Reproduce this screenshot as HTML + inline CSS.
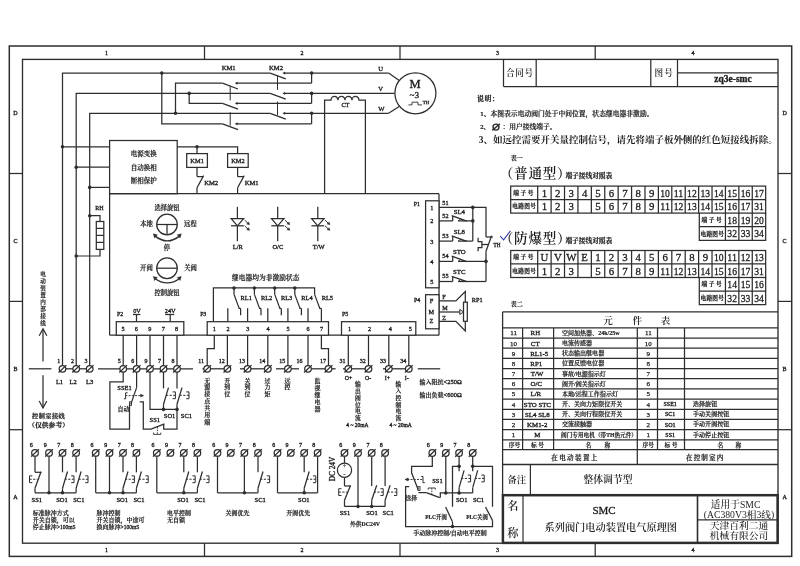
<!DOCTYPE html>
<html lang="zh">
<head>
<meta charset="utf-8">
<title>SMC系列阀门电动装置电气原理图</title>
<style>
html,body{margin:0;padding:0;background:#fff;}
body{width:800px;height:566px;overflow:hidden;}
svg{display:block;will-change:transform;}
svg text{font-family:'Liberation Serif','Noto Serif CJK SC',serif;fill:#1c1c1c;}
</style>
</head>
<body>
<svg width="800" height="566" viewBox="0 0 800 566" fill="none" stroke="#2e2e2e" stroke-width="1.25" stroke-linecap="butt" stroke-linejoin="miter">
<rect x="0" y="0" width="800" height="566" fill="#fff" stroke="none"/>
<g transform="translate(0 0.2)">
<rect x="9.3" y="45.8" width="782.4" height="510.4" stroke-width="1.5"/>
<rect x="22.5" y="59.2" width="755.5" height="483.8" stroke-width="1.35"/>
<line x1="204.5" y1="45.8" x2="204.5" y2="59.2"/>
<line x1="204.5" y1="543" x2="204.5" y2="556.2"/>
<line x1="400" y1="45.8" x2="400" y2="59.2"/>
<line x1="400" y1="543" x2="400" y2="556.2"/>
<line x1="595.2" y1="45.8" x2="595.2" y2="59.2"/>
<line x1="595.2" y1="543" x2="595.2" y2="556.2"/>
<line x1="9.3" y1="173.3" x2="22.5" y2="173.3"/>
<line x1="778" y1="173.3" x2="791.7" y2="173.3"/>
<line x1="9.3" y1="301.2" x2="22.5" y2="301.2"/>
<line x1="778" y1="301.2" x2="791.7" y2="301.2"/>
<line x1="9.3" y1="429.5" x2="22.5" y2="429.5"/>
<line x1="778" y1="429.5" x2="791.7" y2="429.5"/>
<line x1="503.5" y1="59.2" x2="503.5" y2="86.3"/>
<line x1="503.5" y1="86.3" x2="778" y2="86.3"/>
<line x1="536.2" y1="59.2" x2="536.2" y2="86.3"/>
<line x1="650.8" y1="59.2" x2="650.8" y2="86.3"/>
<line x1="677.5" y1="59.2" x2="677.5" y2="86.3"/>
<line x1="677.5" y1="72.6" x2="778" y2="72.6"/>
<circle cx="496" cy="126.9" r="3" stroke-width="1.4"/>
<line x1="492.3" y1="130.2" x2="499.9" y2="123.5" stroke-width="1.4"/>
<rect x="510.7" y="185.9" width="254.97" height="27"/>
<line x1="510.7" y1="199.4" x2="765.67" y2="199.4"/>
<line x1="537.7" y1="185.9" x2="537.7" y2="212.9"/>
<line x1="551.11" y1="185.9" x2="551.11" y2="212.9"/>
<line x1="564.52" y1="185.9" x2="564.52" y2="212.9"/>
<line x1="577.93" y1="185.9" x2="577.93" y2="212.9"/>
<line x1="591.34" y1="185.9" x2="591.34" y2="212.9"/>
<line x1="604.75" y1="185.9" x2="604.75" y2="212.9"/>
<line x1="618.16" y1="185.9" x2="618.16" y2="212.9"/>
<line x1="631.57" y1="185.9" x2="631.57" y2="212.9"/>
<line x1="644.98" y1="185.9" x2="644.98" y2="212.9"/>
<line x1="658.39" y1="185.9" x2="658.39" y2="212.9"/>
<line x1="671.8" y1="185.9" x2="671.8" y2="212.9"/>
<line x1="685.21" y1="185.9" x2="685.21" y2="212.9"/>
<line x1="698.62" y1="185.9" x2="698.62" y2="212.9"/>
<line x1="712.03" y1="185.9" x2="712.03" y2="212.9"/>
<line x1="725.44" y1="185.9" x2="725.44" y2="212.9"/>
<line x1="738.85" y1="185.9" x2="738.85" y2="212.9"/>
<line x1="752.26" y1="185.9" x2="752.26" y2="212.9"/>
<polyline points="699.3,212.9 699.3,240.1 765.67,240.1 765.67,212.9"/>
<line x1="699.3" y1="226.5" x2="765.67" y2="226.5"/>
<line x1="725.44" y1="212.9" x2="725.44" y2="240.1"/>
<line x1="738.85" y1="212.9" x2="738.85" y2="240.1"/>
<line x1="752.26" y1="212.9" x2="752.26" y2="240.1"/>
<rect x="510.7" y="250.3" width="254.97" height="27"/>
<line x1="510.7" y1="263.8" x2="765.67" y2="263.8"/>
<line x1="537.7" y1="250.3" x2="537.7" y2="277.3"/>
<line x1="551.11" y1="250.3" x2="551.11" y2="277.3"/>
<line x1="564.52" y1="250.3" x2="564.52" y2="277.3"/>
<line x1="577.93" y1="250.3" x2="577.93" y2="277.3"/>
<line x1="591.34" y1="250.3" x2="591.34" y2="277.3"/>
<line x1="604.75" y1="250.3" x2="604.75" y2="277.3"/>
<line x1="618.16" y1="250.3" x2="618.16" y2="277.3"/>
<line x1="631.57" y1="250.3" x2="631.57" y2="277.3"/>
<line x1="644.98" y1="250.3" x2="644.98" y2="277.3"/>
<line x1="658.39" y1="250.3" x2="658.39" y2="277.3"/>
<line x1="671.8" y1="250.3" x2="671.8" y2="277.3"/>
<line x1="685.21" y1="250.3" x2="685.21" y2="277.3"/>
<line x1="698.62" y1="250.3" x2="698.62" y2="277.3"/>
<line x1="712.03" y1="250.3" x2="712.03" y2="277.3"/>
<line x1="725.44" y1="250.3" x2="725.44" y2="277.3"/>
<line x1="738.85" y1="250.3" x2="738.85" y2="277.3"/>
<line x1="752.26" y1="250.3" x2="752.26" y2="277.3"/>
<polyline points="699.3,277.3 699.3,304.5 765.67,304.5 765.67,277.3"/>
<line x1="699.3" y1="290.9" x2="765.67" y2="290.9"/>
<line x1="725.44" y1="277.3" x2="725.44" y2="304.5"/>
<line x1="738.85" y1="277.3" x2="738.85" y2="304.5"/>
<line x1="752.26" y1="277.3" x2="752.26" y2="304.5"/>
<polyline points="500.2,236 503.6,239.6 510.4,230.6" stroke-width="1.1" stroke="#3a3aa8"/>
<line x1="502.6" y1="311.7" x2="778" y2="311.7" stroke-width="1.3"/>
<line x1="502.6" y1="311.7" x2="502.6" y2="495" stroke-width="1.3"/>
<line x1="502.6" y1="327.7" x2="778" y2="327.7"/>
<line x1="502.6" y1="337.87" x2="778" y2="337.87"/>
<line x1="502.6" y1="348.04" x2="778" y2="348.04"/>
<line x1="502.6" y1="358.21" x2="778" y2="358.21"/>
<line x1="502.6" y1="368.38" x2="778" y2="368.38"/>
<line x1="502.6" y1="378.55" x2="778" y2="378.55"/>
<line x1="502.6" y1="388.72" x2="778" y2="388.72"/>
<line x1="502.6" y1="398.89" x2="778" y2="398.89"/>
<line x1="502.6" y1="409.06" x2="778" y2="409.06"/>
<line x1="502.6" y1="419.23" x2="778" y2="419.23"/>
<line x1="502.6" y1="429.4" x2="778" y2="429.4"/>
<line x1="502.6" y1="439.57" x2="778" y2="439.57"/>
<line x1="502.6" y1="449.4" x2="778" y2="449.4"/>
<line x1="502.6" y1="464.3" x2="778" y2="464.3" stroke-width="1.3"/>
<line x1="522.6" y1="327.7" x2="522.6" y2="449.4"/>
<line x1="553.6" y1="327.7" x2="553.6" y2="449.4"/>
<line x1="657.5" y1="327.7" x2="657.5" y2="449.4"/>
<line x1="684.5" y1="327.7" x2="684.5" y2="449.4"/>
<line x1="637.3" y1="327.7" x2="637.3" y2="464.3"/>
<line x1="530.4" y1="464.3" x2="530.4" y2="495" stroke-width="1.2"/>
<rect x="502.9" y="495" width="274.7" height="47.7" stroke-width="2.5"/>
<line x1="523" y1="495" x2="523" y2="543" stroke-width="1.2"/>
<line x1="697.5" y1="495" x2="697.5" y2="543" stroke-width="1.6"/>
<line x1="697.5" y1="519.6" x2="778" y2="519.6" stroke-width="1.2"/>
<polyline points="62.5,365.3 62.5,72.9 270.2,72.9"/>
<polyline points="76.2,365.3 76.2,93.2 270.2,93.2"/>
<polyline points="89.7,365.3 89.7,113.1 270.2,113.1"/>
<circle cx="161.8" cy="72.9" r="1.8" fill="#2e2e2e" stroke="none"/>
<polyline points="161.8,72.9 161.8,123.6 222.5,123.6"/>
<circle cx="175.5" cy="113.1" r="1.8" fill="#2e2e2e" stroke="none"/>
<polyline points="175.5,113.1 175.5,83 222.5,83"/>
<circle cx="189.2" cy="93.2" r="1.8" fill="#2e2e2e" stroke="none"/>
<polyline points="189.2,93.2 189.2,103.2 222.5,103.2"/>
<line x1="222.5" y1="83" x2="238" y2="88.8"/>
<line x1="236.2" y1="83" x2="311.6" y2="83"/>
<polygon points="235.2,83 237.4,81.9 237.4,84.1" stroke-width="0.4" fill="#2e2e2e"/>
<line x1="222.5" y1="103.2" x2="238" y2="109"/>
<line x1="236.2" y1="103.2" x2="311.6" y2="103.2"/>
<polygon points="235.2,103.2 237.4,102.1 237.4,104.3" stroke-width="0.4" fill="#2e2e2e"/>
<line x1="222.5" y1="123.6" x2="238" y2="129.4"/>
<line x1="236.2" y1="123.6" x2="311.6" y2="123.6"/>
<polygon points="235.2,123.6 237.4,122.5 237.4,124.7" stroke-width="0.4" fill="#2e2e2e"/>
<line x1="230.2" y1="86" x2="230.2" y2="100.2" stroke-width="1"/>
<line x1="230.2" y1="112" x2="230.2" y2="125.4" stroke-width="1"/>
<line x1="270.2" y1="72.9" x2="285.8" y2="78.7"/>
<polygon points="282.8,72.9 285,71.8 285,74" stroke-width="0.4" fill="#2e2e2e"/>
<line x1="270.2" y1="93.2" x2="285.8" y2="99"/>
<polygon points="282.8,93.2 285,92.1 285,94.3" stroke-width="0.4" fill="#2e2e2e"/>
<line x1="270.2" y1="113.1" x2="285.8" y2="118.9"/>
<polygon points="282.8,113.1 285,112 285,114.2" stroke-width="0.4" fill="#2e2e2e"/>
<line x1="283.8" y1="72.9" x2="388.6" y2="72.9"/>
<line x1="283.8" y1="93.2" x2="394.9" y2="93.2"/>
<line x1="283.8" y1="113.1" x2="388.6" y2="113.1"/>
<line x1="277.5" y1="75.6" x2="277.5" y2="89.7" stroke-width="1"/>
<line x1="277.5" y1="101.4" x2="277.5" y2="115" stroke-width="1"/>
<circle cx="311.6" cy="72.9" r="1.8" fill="#2e2e2e" stroke="none"/>
<line x1="311.6" y1="72.9" x2="311.6" y2="83"/>
<circle cx="311.6" cy="93.2" r="1.8" fill="#2e2e2e" stroke="none"/>
<line x1="311.6" y1="93.2" x2="311.6" y2="103.2"/>
<circle cx="311.6" cy="113.1" r="1.8" fill="#2e2e2e" stroke="none"/>
<line x1="311.6" y1="113.1" x2="311.6" y2="123.6"/>
<line x1="388.6" y1="72.9" x2="399.2" y2="80.2"/>
<line x1="388.6" y1="113.1" x2="399.2" y2="106.2"/>
<circle cx="415.4" cy="93.1" r="20.5" fill="#fff"/>
<polyline points="408.4,104.7 412,104.7 412,102 418,102 418,104.7 422,104.7" stroke-width="0.9"/>
<path d="M324.6,193.6 V100 H331 a3.5,3.8 0 0 1 7,0 a3.5,3.8 0 0 1 7,0 a3.5,3.8 0 0 1 7,0 a3.5,3.8 0 0 1 7,0 H365.4 V193.6"/>
<rect x="109.6" y="140.3" width="67.6" height="53.2"/>
<circle cx="62.5" cy="146.6" r="1.8" fill="#2e2e2e" stroke="none"/>
<line x1="62.5" y1="146.6" x2="109.6" y2="146.6"/>
<circle cx="76.2" cy="167" r="1.8" fill="#2e2e2e" stroke="none"/>
<line x1="76.2" y1="167" x2="109.6" y2="167"/>
<circle cx="89.7" cy="187.2" r="1.8" fill="#2e2e2e" stroke="none"/>
<line x1="89.7" y1="187.2" x2="109.6" y2="187.2"/>
<polyline points="177.2,146.6 237.6,146.6 237.6,153.4"/>
<circle cx="197" cy="146.6" r="1.8" fill="#2e2e2e" stroke="none"/>
<line x1="197" y1="146.6" x2="197" y2="153.4"/>
<rect x="186.7" y="153.4" width="20.7" height="13.8" fill="#fff"/>
<rect x="227.6" y="153.4" width="20.6" height="13.8" fill="#fff"/>
<line x1="197" y1="167.2" x2="197" y2="176.4"/>
<line x1="197" y1="176.4" x2="203.2" y2="176.4"/>
<line x1="197" y1="187.6" x2="203.6" y2="175.4"/>
<line x1="197" y1="187.6" x2="197" y2="193.5"/>
<line x1="237.6" y1="167.2" x2="237.6" y2="176.4"/>
<line x1="237.6" y1="176.4" x2="243.8" y2="176.4"/>
<line x1="237.6" y1="187.6" x2="244.2" y2="175.4"/>
<line x1="237.6" y1="187.6" x2="237.6" y2="193.5"/>
<circle cx="89.7" cy="215.5" r="1.8" fill="#2e2e2e" stroke="none"/>
<polyline points="89.7,215.5 100,215.5 100,221.3"/>
<rect x="96.3" y="221.3" width="7.5" height="27.9" fill="#fff"/>
<line x1="96.3" y1="228.2" x2="103.8" y2="228.2"/>
<line x1="96.3" y1="235.2" x2="103.8" y2="235.2"/>
<line x1="96.3" y1="242.2" x2="103.8" y2="242.2"/>
<polyline points="100,249.2 100,255.8 76.2,255.8"/>
<circle cx="76.2" cy="255.8" r="1.8" fill="#2e2e2e" stroke="none"/>
<line x1="28.8" y1="368.6" x2="51.4" y2="368.6"/>
<line x1="62.5" y1="368.6" x2="89.7" y2="368.6"/>
<circle cx="62.5" cy="368.6" r="3.3" stroke-width="1.25" fill="#fff"/>
<line x1="58.6" y1="372.3" x2="66.4" y2="364.9" stroke-width="1.25"/>
<circle cx="76.2" cy="368.6" r="3.3" stroke-width="1.25" fill="#fff"/>
<line x1="72.3" y1="372.3" x2="80.1" y2="364.9" stroke-width="1.25"/>
<circle cx="89.7" cy="368.6" r="3.3" stroke-width="1.25" fill="#fff"/>
<line x1="85.8" y1="372.3" x2="93.6" y2="364.9" stroke-width="1.25"/>
<line x1="98" y1="368.6" x2="193" y2="368.6"/>
<line x1="43" y1="361.2" x2="43" y2="329"/>
<polyline points="39.2,335.6 43,328.6 46.8,335.6"/>
<line x1="43" y1="375" x2="43" y2="407.4"/>
<polyline points="39.2,400.8 43,407.8 46.8,400.8"/>
<line x1="109.6" y1="193.5" x2="439" y2="193.5"/>
<line x1="109.6" y1="193.5" x2="109.6" y2="335"/>
<line x1="439" y1="193.5" x2="439" y2="335"/>
<line x1="109.6" y1="335" x2="439" y2="335"/>
<circle cx="167" cy="224.3" r="10.3"/>
<line x1="156.7" y1="224.3" x2="177.3" y2="224.3"/>
<line x1="167" y1="224.3" x2="167" y2="234.6"/>
<circle cx="167" cy="268" r="10.3"/>
<line x1="156.7" y1="268" x2="177.3" y2="268"/>
<path d="M154.6,235.4 Q167.3,246 180.0,235.4" stroke-width="1.4"/>
<polygon points="153.3,233.6 157.4,234.6 154.5,237.8" stroke-width="0.4" fill="#2e2e2e"/>
<polygon points="181.3,233.6 177.2,234.6 180.1,237.8" stroke-width="0.4" fill="#2e2e2e"/>
<path d="M154.6,278 Q167.3,287.4 180.0,278" stroke-width="1.4"/>
<polygon points="153.3,276.2 157.4,277.2 154.5,280.4" stroke-width="0.4" fill="#2e2e2e"/>
<polygon points="181.3,276.2 177.2,277.2 180.1,280.4" stroke-width="0.4" fill="#2e2e2e"/>
<line x1="237.4" y1="206.6" x2="237.4" y2="218.5"/>
<line x1="237.4" y1="225.6" x2="237.4" y2="241"/>
<polygon points="231.2,218.5 243.6,218.5 237.4,225.6" fill="#fff"/>
<line x1="231" y1="225.6" x2="243.8" y2="225.6"/>
<line x1="244.6" y1="219.9" x2="248.4" y2="223.5" stroke-width="1"/>
<polygon points="249.6,224.5 246.6,223.8 248.8,221.8" stroke-width="0.4" fill="#2e2e2e"/>
<line x1="244.6" y1="225.6" x2="248.4" y2="229.2" stroke-width="1"/>
<polygon points="249.6,230.2 246.6,229.5 248.8,227.5" stroke-width="0.4" fill="#2e2e2e"/>
<line x1="277.7" y1="206.6" x2="277.7" y2="218.5"/>
<line x1="277.7" y1="225.6" x2="277.7" y2="241"/>
<polygon points="271.5,218.5 283.9,218.5 277.7,225.6" fill="#fff"/>
<line x1="271.3" y1="225.6" x2="284.1" y2="225.6"/>
<line x1="284.9" y1="219.9" x2="288.7" y2="223.5" stroke-width="1"/>
<polygon points="289.9,224.5 286.9,223.8 289.1,221.8" stroke-width="0.4" fill="#2e2e2e"/>
<line x1="284.9" y1="225.6" x2="288.7" y2="229.2" stroke-width="1"/>
<polygon points="289.9,230.2 286.9,229.5 289.1,227.5" stroke-width="0.4" fill="#2e2e2e"/>
<line x1="317.8" y1="206.6" x2="317.8" y2="218.5"/>
<line x1="317.8" y1="225.6" x2="317.8" y2="241"/>
<polygon points="311.6,218.5 324,218.5 317.8,225.6" fill="#fff"/>
<line x1="311.4" y1="225.6" x2="324.2" y2="225.6"/>
<line x1="325" y1="219.9" x2="328.8" y2="223.5" stroke-width="1"/>
<polygon points="330,224.5 327,223.8 329.2,221.8" stroke-width="0.4" fill="#2e2e2e"/>
<line x1="325" y1="225.6" x2="328.8" y2="229.2" stroke-width="1"/>
<polygon points="330,230.2 327,229.5 329.2,227.5" stroke-width="0.4" fill="#2e2e2e"/>
<polyline points="213.4,321.5 213.4,287.8 314.6,287.8 314.6,294.2"/>
<circle cx="234" cy="287.8" r="1.8" fill="#2e2e2e" stroke="none"/>
<line x1="234" y1="287.8" x2="234" y2="294.2"/>
<line x1="234" y1="294.2" x2="239.2" y2="308.2"/>
<line x1="238.6" y1="308.2" x2="240.6" y2="308.2"/>
<line x1="240.6" y1="308.2" x2="240.6" y2="315"/>
<circle cx="254.4" cy="287.8" r="1.8" fill="#2e2e2e" stroke="none"/>
<line x1="254.4" y1="287.8" x2="254.4" y2="294.2"/>
<line x1="254.4" y1="294.2" x2="259.6" y2="308.2"/>
<line x1="259" y1="308.2" x2="261" y2="308.2"/>
<line x1="261" y1="308.2" x2="261" y2="315"/>
<circle cx="274.7" cy="287.8" r="1.8" fill="#2e2e2e" stroke="none"/>
<line x1="274.7" y1="287.8" x2="274.7" y2="294.2"/>
<line x1="274.7" y1="294.2" x2="279.9" y2="308.2"/>
<line x1="279.3" y1="308.2" x2="281.3" y2="308.2"/>
<line x1="281.3" y1="308.2" x2="281.3" y2="315"/>
<circle cx="294.8" cy="287.8" r="1.8" fill="#2e2e2e" stroke="none"/>
<line x1="294.8" y1="287.8" x2="294.8" y2="294.2"/>
<line x1="294.8" y1="294.2" x2="300" y2="308.2"/>
<line x1="299.4" y1="308.2" x2="301.4" y2="308.2"/>
<line x1="301.4" y1="308.2" x2="301.4" y2="315"/>
<line x1="314.6" y1="294.2" x2="319.8" y2="308.2"/>
<line x1="319.2" y1="308.2" x2="321.4" y2="308.2"/>
<line x1="321.4" y1="308.2" x2="321.4" y2="321.5"/>
<line x1="227.8" y1="308" x2="227.8" y2="321.5"/>
<line x1="247.6" y1="308" x2="247.6" y2="321.5"/>
<line x1="267.8" y1="308" x2="267.8" y2="321.5"/>
<line x1="287.9" y1="308" x2="287.9" y2="321.5"/>
<line x1="308" y1="308" x2="308" y2="321.5"/>
<rect x="207.2" y="321.5" width="121.3" height="13.5" fill="#fff"/>
<rect x="116.3" y="321.5" width="67.5" height="13.5" fill="#fff"/>
<line x1="133" y1="314.3" x2="140.4" y2="314.3"/>
<line x1="136.5" y1="314.3" x2="136.5" y2="321.5"/>
<line x1="165.2" y1="314.3" x2="174.2" y2="314.3"/>
<line x1="170.2" y1="314.3" x2="170.2" y2="321.5"/>
<rect x="341.5" y="321.5" width="74.3" height="13.5" fill="#fff"/>
<rect x="425.6" y="200.6" width="13.4" height="87" fill="#fff"/>
<rect x="425.6" y="294.5" width="13.4" height="34.1" fill="#fff"/>
<polyline points="439,207.2 486,207.2 486,236.8"/>
<circle cx="472.8" cy="207.2" r="1.8" fill="#2e2e2e" stroke="none"/>
<line x1="472.8" y1="207.2" x2="472.8" y2="240.9"/>
<circle cx="472.8" cy="220.7" r="1.8" fill="#2e2e2e" stroke="none"/>
<line x1="439" y1="220.7" x2="452.7" y2="220.7"/>
<line x1="452.7" y1="220.7" x2="452.7" y2="215.9"/>
<line x1="451.7" y1="215.5" x2="466.9" y2="220.9"/>
<polyline points="458.1,220.7 460.9,218.6 463.3,220.7" stroke-width="0.9"/>
<line x1="458.1" y1="220.7" x2="472.8" y2="220.7"/>
<line x1="439" y1="240.9" x2="452.7" y2="240.9"/>
<line x1="452.7" y1="240.9" x2="452.7" y2="236.1"/>
<line x1="451.7" y1="235.7" x2="466.9" y2="241.1"/>
<polyline points="458.1,240.9 460.9,238.8 463.3,240.9" stroke-width="0.9"/>
<line x1="458.1" y1="240.9" x2="472.8" y2="240.9"/>
<line x1="439" y1="261.2" x2="452.7" y2="261.2"/>
<line x1="452.7" y1="261.2" x2="452.7" y2="256.4"/>
<line x1="451.7" y1="256" x2="466.9" y2="261.4"/>
<polyline points="458.1,261.2 460.9,259.1 463.3,261.2" stroke-width="0.9"/>
<line x1="458.1" y1="261.2" x2="486" y2="261.2"/>
<line x1="439" y1="281.3" x2="452.7" y2="281.3"/>
<line x1="452.7" y1="281.3" x2="452.7" y2="276.5"/>
<line x1="451.7" y1="276.1" x2="466.9" y2="281.5"/>
<polyline points="458.1,281.3 460.9,279.2 463.3,281.3" stroke-width="0.9"/>
<line x1="458.1" y1="281.3" x2="486" y2="281.3"/>
<circle cx="486" cy="261.2" r="1.8" fill="#2e2e2e" stroke="none"/>
<line x1="486" y1="281.3" x2="486" y2="251"/>
<line x1="486" y1="236.8" x2="492.9" y2="236.8"/>
<line x1="486" y1="251" x2="491.6" y2="235.6"/>
<polyline points="478.1,237.6 478.1,241.3 481.9,241.3 481.9,247.3 478.1,247.3 478.1,251.1"/>
<line x1="481.9" y1="244.3" x2="488.6" y2="244.3"/>
<polyline points="439,300.8 455.9,300.8 465.3,291.4 465.3,302"/>
<polyline points="439,321.1 455.9,321.1 465.3,330.8 465.3,321.1"/>
<line x1="439" y1="311.8" x2="460.2" y2="311.8"/>
<polygon points="459.8,309.3 463.6,311.8 459.8,314.3" stroke-width="1" fill="#fff"/>
<rect x="463.5" y="302" width="3.8" height="19.1" fill="#fff"/>
<line x1="123.2" y1="335" x2="123.2" y2="368.6"/>
<circle cx="123.2" cy="368.6" r="3.3" stroke-width="1.25" fill="#fff"/>
<line x1="119.3" y1="372.3" x2="127.1" y2="364.9" stroke-width="1.25"/>
<line x1="136.6" y1="335" x2="136.6" y2="368.6"/>
<circle cx="136.6" cy="368.6" r="3.3" stroke-width="1.25" fill="#fff"/>
<line x1="132.7" y1="372.3" x2="140.5" y2="364.9" stroke-width="1.25"/>
<line x1="150" y1="335" x2="150" y2="368.6"/>
<circle cx="150" cy="368.6" r="3.3" stroke-width="1.25" fill="#fff"/>
<line x1="146.1" y1="372.3" x2="153.9" y2="364.9" stroke-width="1.25"/>
<line x1="163.5" y1="335" x2="163.5" y2="368.6"/>
<circle cx="163.5" cy="368.6" r="3.3" stroke-width="1.25" fill="#fff"/>
<line x1="159.6" y1="372.3" x2="167.4" y2="364.9" stroke-width="1.25"/>
<line x1="177" y1="335" x2="177" y2="368.6"/>
<circle cx="177" cy="368.6" r="3.3" stroke-width="1.25" fill="#fff"/>
<line x1="173.1" y1="372.3" x2="180.9" y2="364.9" stroke-width="1.25"/>
<polyline points="123.2,371.9 123.2,381.8 109.9,381.8 109.9,429 129.5,429 129.5,404.6"/>
<rect x="129.5" y="401.6" width="1.9" height="3.6" stroke-width="0.9"/>
<line x1="136.6" y1="371.9" x2="136.6" y2="387.4"/>
<line x1="136.6" y1="387.4" x2="130.8" y2="404.2"/>
<polyline points="127.6,392.6 125.6,392.6 125.6,398.6 123.8,398.6" stroke-width="1"/>
<line x1="125.4" y1="395.4" x2="141" y2="395.4" stroke-width="0.9" stroke-dasharray="2,1.2"/>
<polygon points="140.6,394 143.6,395.4 140.6,396.8" stroke-width="0.6" fill="#2e2e2e"/>
<polyline points="139.7,401.8 143.3,401.8 143.3,429 151,429"/>
<line x1="151" y1="429" x2="164.6" y2="423.7"/>
<polyline points="163.7,424.6 163.7,429 177,429 177,409.2"/>
<line x1="157.4" y1="426.8" x2="157.4" y2="433.6" stroke-width="0.9" stroke-dasharray="1.6,1"/>
<polyline points="153.6,432.4 153.6,434.2 160.8,434.2 160.8,432.4" stroke-width="0.9"/>
<polyline points="150,371.9 150,409.2 177,409.2"/>
<circle cx="163.5" cy="409.2" r="1.8" fill="#2e2e2e" stroke="none"/>
<circle cx="177" cy="409.2" r="1.8" fill="#2e2e2e" stroke="none"/>
<line x1="163.5" y1="371.9" x2="163.5" y2="388.2"/>
<line x1="163.5" y1="404" x2="168.5" y2="387.4"/>
<line x1="163.5" y1="404" x2="163.5" y2="409.2"/>
<polyline points="172.6,391.7 175.4,391.7 175.4,398.5 172.6,398.5" stroke-width="1"/>
<line x1="175.4" y1="395.1" x2="166.1" y2="395.1" stroke-width="1" stroke-dasharray="2.2,1.4"/>
<line x1="177" y1="371.9" x2="177" y2="388.2"/>
<line x1="177" y1="404" x2="182" y2="387.4"/>
<line x1="177" y1="404" x2="177" y2="409.2"/>
<polyline points="186.2,391.7 189,391.7 189,398.5 186.2,398.5" stroke-width="1"/>
<line x1="189" y1="395.1" x2="179.6" y2="395.1" stroke-width="1" stroke-dasharray="2.2,1.4"/>
<polyline points="214.3,335 214.3,348.4 207.2,348.4 207.2,368.6"/>
<line x1="227.4" y1="335" x2="227.4" y2="368.6"/>
<line x1="247.6" y1="335" x2="247.6" y2="368.6"/>
<line x1="267.8" y1="335" x2="267.8" y2="368.6"/>
<line x1="287.9" y1="335" x2="287.9" y2="368.6"/>
<line x1="308" y1="335" x2="308" y2="368.6"/>
<polyline points="321.4,335 321.4,348.4 328.5,348.4 328.5,368.6"/>
<line x1="202.5" y1="368.6" x2="231" y2="368.6"/>
<line x1="240" y1="368.6" x2="271.2" y2="368.6"/>
<line x1="276" y1="368.6" x2="299" y2="368.6"/>
<line x1="308" y1="368.6" x2="335.6" y2="368.6"/>
<circle cx="207.2" cy="368.6" r="3.3" stroke-width="1.25" fill="#fff"/>
<line x1="203.3" y1="372.3" x2="211.1" y2="364.9" stroke-width="1.25"/>
<circle cx="227.4" cy="368.6" r="3.3" stroke-width="1.25" fill="#fff"/>
<line x1="223.5" y1="372.3" x2="231.3" y2="364.9" stroke-width="1.25"/>
<circle cx="247.6" cy="368.6" r="3.3" stroke-width="1.25" fill="#fff"/>
<line x1="243.7" y1="372.3" x2="251.5" y2="364.9" stroke-width="1.25"/>
<circle cx="267.8" cy="368.6" r="3.3" stroke-width="1.25" fill="#fff"/>
<line x1="263.9" y1="372.3" x2="271.7" y2="364.9" stroke-width="1.25"/>
<circle cx="287.9" cy="368.6" r="3.3" stroke-width="1.25" fill="#fff"/>
<line x1="284" y1="372.3" x2="291.8" y2="364.9" stroke-width="1.25"/>
<circle cx="308" cy="368.6" r="3.3" stroke-width="1.25" fill="#fff"/>
<line x1="304.1" y1="372.3" x2="311.9" y2="364.9" stroke-width="1.25"/>
<circle cx="328.5" cy="368.6" r="3.3" stroke-width="1.25" fill="#fff"/>
<line x1="324.6" y1="372.3" x2="332.4" y2="364.9" stroke-width="1.25"/>
<line x1="348.3" y1="335" x2="348.3" y2="368.6"/>
<line x1="368.5" y1="335" x2="368.5" y2="368.6"/>
<line x1="388.8" y1="335" x2="388.8" y2="368.6"/>
<line x1="408.8" y1="335" x2="408.8" y2="368.6"/>
<line x1="343" y1="368.6" x2="372" y2="368.6"/>
<line x1="383" y1="368.6" x2="408.8" y2="368.6"/>
<line x1="417.8" y1="368.6" x2="440.2" y2="368.6"/>
<circle cx="348.3" cy="368.6" r="3.3" stroke-width="1.25" fill="#fff"/>
<line x1="344.4" y1="372.3" x2="352.2" y2="364.9" stroke-width="1.25"/>
<circle cx="368.5" cy="368.6" r="3.3" stroke-width="1.25" fill="#fff"/>
<line x1="364.6" y1="372.3" x2="372.4" y2="364.9" stroke-width="1.25"/>
<circle cx="388.8" cy="368.6" r="3.3" stroke-width="1.25" fill="#fff"/>
<line x1="384.9" y1="372.3" x2="392.7" y2="364.9" stroke-width="1.25"/>
<circle cx="408.8" cy="368.6" r="3.3" stroke-width="1.25" fill="#fff"/>
<line x1="404.9" y1="372.3" x2="412.7" y2="364.9" stroke-width="1.25"/>
<line x1="35" y1="456" x2="35" y2="472.1"/>
<line x1="35" y1="472.1" x2="41.4" y2="472.1"/>
<line x1="35" y1="488" x2="41" y2="471.5"/>
<line x1="35" y1="488" x2="35" y2="492.6"/>
<polyline points="32.3,475.65 29.5,475.65 29.5,482.45 32.3,482.45" stroke-width="1"/>
<line x1="29.5" y1="479.05" x2="37.6" y2="479.05" stroke-width="1" stroke-dasharray="2.2,1.4"/>
<line x1="49" y1="456" x2="49" y2="492.6"/>
<line x1="62.5" y1="456" x2="62.5" y2="472.1"/>
<line x1="62.5" y1="488" x2="67.5" y2="471.3"/>
<line x1="62.5" y1="488" x2="62.5" y2="492.6"/>
<polyline points="71.2,475.65 74,475.65 74,482.45 71.2,482.45" stroke-width="1"/>
<line x1="74" y1="479.05" x2="65.1" y2="479.05" stroke-width="1" stroke-dasharray="2.2,1.4"/>
<line x1="76.1" y1="456" x2="76.1" y2="472.1"/>
<line x1="76.1" y1="488" x2="81.1" y2="471.3"/>
<line x1="76.1" y1="488" x2="76.1" y2="492.6"/>
<polyline points="85.2,475.65 88,475.65 88,482.45 85.2,482.45" stroke-width="1"/>
<line x1="88" y1="479.05" x2="78.7" y2="479.05" stroke-width="1" stroke-dasharray="2.2,1.4"/>
<line x1="35" y1="492.6" x2="76.1" y2="492.6"/>
<circle cx="49" cy="492.6" r="1.8" fill="#2e2e2e" stroke="none"/>
<circle cx="62.5" cy="492.6" r="1.8" fill="#2e2e2e" stroke="none"/>
<circle cx="35" cy="452.7" r="3.3" stroke-width="1.25" fill="#fff"/>
<line x1="31.1" y1="456.4" x2="38.9" y2="449" stroke-width="1.25"/>
<circle cx="49" cy="452.7" r="3.3" stroke-width="1.25" fill="#fff"/>
<line x1="45.1" y1="456.4" x2="52.9" y2="449" stroke-width="1.25"/>
<circle cx="62.5" cy="452.7" r="3.3" stroke-width="1.25" fill="#fff"/>
<line x1="58.6" y1="456.4" x2="66.4" y2="449" stroke-width="1.25"/>
<circle cx="76.1" cy="452.7" r="3.3" stroke-width="1.25" fill="#fff"/>
<line x1="72.2" y1="456.4" x2="80" y2="449" stroke-width="1.25"/>
<line x1="95.7" y1="456" x2="95.7" y2="492.6"/>
<line x1="109.5" y1="456" x2="109.5" y2="492.6"/>
<line x1="123" y1="456" x2="123" y2="472.1"/>
<line x1="123" y1="488" x2="128" y2="471.3"/>
<line x1="123" y1="488" x2="123" y2="492.6"/>
<polyline points="131.6,475.65 134.4,475.65 134.4,482.45 131.6,482.45" stroke-width="1"/>
<line x1="134.4" y1="479.05" x2="125.6" y2="479.05" stroke-width="1" stroke-dasharray="2.2,1.4"/>
<line x1="136.4" y1="456" x2="136.4" y2="472.1"/>
<line x1="136.4" y1="488" x2="141.4" y2="471.3"/>
<line x1="136.4" y1="488" x2="136.4" y2="492.6"/>
<polyline points="145.4,475.65 148.2,475.65 148.2,482.45 145.4,482.45" stroke-width="1"/>
<line x1="148.2" y1="479.05" x2="139" y2="479.05" stroke-width="1" stroke-dasharray="2.2,1.4"/>
<line x1="95.7" y1="492.6" x2="136.4" y2="492.6"/>
<circle cx="109.5" cy="492.6" r="1.8" fill="#2e2e2e" stroke="none"/>
<circle cx="123" cy="492.6" r="1.8" fill="#2e2e2e" stroke="none"/>
<circle cx="95.7" cy="452.7" r="3.3" stroke-width="1.25" fill="#fff"/>
<line x1="91.8" y1="456.4" x2="99.6" y2="449" stroke-width="1.25"/>
<circle cx="109.5" cy="452.7" r="3.3" stroke-width="1.25" fill="#fff"/>
<line x1="105.6" y1="456.4" x2="113.4" y2="449" stroke-width="1.25"/>
<circle cx="123" cy="452.7" r="3.3" stroke-width="1.25" fill="#fff"/>
<line x1="119.1" y1="456.4" x2="126.9" y2="449" stroke-width="1.25"/>
<circle cx="136.4" cy="452.7" r="3.3" stroke-width="1.25" fill="#fff"/>
<line x1="132.5" y1="456.4" x2="140.3" y2="449" stroke-width="1.25"/>
<line x1="156.8" y1="456" x2="156.8" y2="492.6"/>
<line x1="183.8" y1="456" x2="183.8" y2="472.1"/>
<line x1="183.8" y1="488" x2="188.8" y2="471.3"/>
<line x1="183.8" y1="488" x2="183.8" y2="492.6"/>
<polyline points="192.4,475.65 195.2,475.65 195.2,482.45 192.4,482.45" stroke-width="1"/>
<line x1="195.2" y1="479.05" x2="186.4" y2="479.05" stroke-width="1" stroke-dasharray="2.2,1.4"/>
<line x1="197.4" y1="456" x2="197.4" y2="472.1"/>
<line x1="197.4" y1="488" x2="202.4" y2="471.3"/>
<line x1="197.4" y1="488" x2="197.4" y2="492.6"/>
<polyline points="206.2,475.65 209,475.65 209,482.45 206.2,482.45" stroke-width="1"/>
<line x1="209" y1="479.05" x2="200" y2="479.05" stroke-width="1" stroke-dasharray="2.2,1.4"/>
<line x1="156.8" y1="492.6" x2="197.4" y2="492.6"/>
<circle cx="183.8" cy="492.6" r="1.8" fill="#2e2e2e" stroke="none"/>
<circle cx="156.8" cy="452.7" r="3.3" stroke-width="1.25" fill="#fff"/>
<line x1="152.9" y1="456.4" x2="160.7" y2="449" stroke-width="1.25"/>
<circle cx="170.4" cy="452.7" r="3.3" stroke-width="1.25" fill="#fff"/>
<line x1="166.5" y1="456.4" x2="174.3" y2="449" stroke-width="1.25"/>
<circle cx="183.8" cy="452.7" r="3.3" stroke-width="1.25" fill="#fff"/>
<line x1="179.9" y1="456.4" x2="187.7" y2="449" stroke-width="1.25"/>
<circle cx="197.4" cy="452.7" r="3.3" stroke-width="1.25" fill="#fff"/>
<line x1="193.5" y1="456.4" x2="201.3" y2="449" stroke-width="1.25"/>
<line x1="217.5" y1="456" x2="217.5" y2="492.6"/>
<line x1="244.4" y1="456" x2="244.4" y2="492.6"/>
<line x1="258" y1="456" x2="258" y2="472.1"/>
<line x1="258" y1="488" x2="263" y2="471.3"/>
<line x1="258" y1="488" x2="258" y2="492.6"/>
<polyline points="266.8,475.65 269.6,475.65 269.6,482.45 266.8,482.45" stroke-width="1"/>
<line x1="269.6" y1="479.05" x2="260.6" y2="479.05" stroke-width="1" stroke-dasharray="2.2,1.4"/>
<line x1="217.5" y1="492.6" x2="258" y2="492.6"/>
<circle cx="244.4" cy="492.6" r="1.8" fill="#2e2e2e" stroke="none"/>
<circle cx="217.5" cy="452.7" r="3.3" stroke-width="1.25" fill="#fff"/>
<line x1="213.6" y1="456.4" x2="221.4" y2="449" stroke-width="1.25"/>
<circle cx="230.8" cy="452.7" r="3.3" stroke-width="1.25" fill="#fff"/>
<line x1="226.9" y1="456.4" x2="234.7" y2="449" stroke-width="1.25"/>
<circle cx="244.4" cy="452.7" r="3.3" stroke-width="1.25" fill="#fff"/>
<line x1="240.5" y1="456.4" x2="248.3" y2="449" stroke-width="1.25"/>
<circle cx="258" cy="452.7" r="3.3" stroke-width="1.25" fill="#fff"/>
<line x1="254.1" y1="456.4" x2="261.9" y2="449" stroke-width="1.25"/>
<line x1="277.5" y1="456" x2="277.5" y2="492.6"/>
<line x1="304.2" y1="456" x2="304.2" y2="472.1"/>
<line x1="304.2" y1="488" x2="309.2" y2="471.3"/>
<line x1="304.2" y1="488" x2="304.2" y2="492.6"/>
<polyline points="313,475.65 315.8,475.65 315.8,482.45 313,482.45" stroke-width="1"/>
<line x1="315.8" y1="479.05" x2="306.8" y2="479.05" stroke-width="1" stroke-dasharray="2.2,1.4"/>
<line x1="317.6" y1="456" x2="317.6" y2="492.6"/>
<line x1="277.5" y1="492.6" x2="317.6" y2="492.6"/>
<circle cx="304.2" cy="492.6" r="1.8" fill="#2e2e2e" stroke="none"/>
<circle cx="277.5" cy="452.7" r="3.3" stroke-width="1.25" fill="#fff"/>
<line x1="273.6" y1="456.4" x2="281.4" y2="449" stroke-width="1.25"/>
<circle cx="290.8" cy="452.7" r="3.3" stroke-width="1.25" fill="#fff"/>
<line x1="286.9" y1="456.4" x2="294.7" y2="449" stroke-width="1.25"/>
<circle cx="304.2" cy="452.7" r="3.3" stroke-width="1.25" fill="#fff"/>
<line x1="300.3" y1="456.4" x2="308.1" y2="449" stroke-width="1.25"/>
<circle cx="317.6" cy="452.7" r="3.3" stroke-width="1.25" fill="#fff"/>
<line x1="313.7" y1="456.4" x2="321.5" y2="449" stroke-width="1.25"/>
<line x1="344.5" y1="456" x2="344.5" y2="463"/>
<circle cx="344.5" cy="470" r="7.1" fill="#fff"/>
<line x1="344.5" y1="477.1" x2="344.5" y2="485.8"/>
<line x1="344.5" y1="485.8" x2="350.9" y2="485.8"/>
<line x1="344.5" y1="500" x2="350.5" y2="485.2"/>
<line x1="344.5" y1="500" x2="344.5" y2="506.3"/>
<polyline points="341.5,488.5 338.7,488.5 338.7,495.3 341.5,495.3" stroke-width="1"/>
<line x1="338.7" y1="491.9" x2="347.1" y2="491.9" stroke-width="1" stroke-dasharray="2.2,1.4"/>
<line x1="358" y1="456" x2="358" y2="506.3"/>
<line x1="371.7" y1="456" x2="371.7" y2="485.8"/>
<line x1="371.7" y1="500" x2="376.7" y2="485"/>
<line x1="371.7" y1="500" x2="371.7" y2="506.3"/>
<polyline points="380.4,488.5 383.2,488.5 383.2,495.3 380.4,495.3" stroke-width="1"/>
<line x1="383.2" y1="491.9" x2="374.3" y2="491.9" stroke-width="1" stroke-dasharray="2.2,1.4"/>
<line x1="385.1" y1="456" x2="385.1" y2="485.8"/>
<line x1="385.1" y1="500" x2="390.1" y2="485"/>
<line x1="385.1" y1="500" x2="385.1" y2="506.3"/>
<polyline points="394,488.5 396.8,488.5 396.8,495.3 394,495.3" stroke-width="1"/>
<line x1="396.8" y1="491.9" x2="387.7" y2="491.9" stroke-width="1" stroke-dasharray="2.2,1.4"/>
<line x1="344.5" y1="506.3" x2="385.1" y2="506.3"/>
<circle cx="358" cy="506.3" r="1.8" fill="#2e2e2e" stroke="none"/>
<circle cx="371.7" cy="506.3" r="1.8" fill="#2e2e2e" stroke="none"/>
<circle cx="344.5" cy="452.7" r="3.3" stroke-width="1.25" fill="#fff"/>
<line x1="340.6" y1="456.4" x2="348.4" y2="449" stroke-width="1.25"/>
<circle cx="358" cy="452.7" r="3.3" stroke-width="1.25" fill="#fff"/>
<line x1="354.1" y1="456.4" x2="361.9" y2="449" stroke-width="1.25"/>
<circle cx="371.7" cy="452.7" r="3.3" stroke-width="1.25" fill="#fff"/>
<line x1="367.8" y1="456.4" x2="375.6" y2="449" stroke-width="1.25"/>
<circle cx="385.1" cy="452.7" r="3.3" stroke-width="1.25" fill="#fff"/>
<line x1="381.2" y1="456.4" x2="389" y2="449" stroke-width="1.25"/>
<circle cx="432.3" cy="452.8" r="3.3" stroke-width="1.25" fill="#fff"/>
<line x1="428.4" y1="456.5" x2="436.2" y2="449.1" stroke-width="1.25"/>
<circle cx="445.8" cy="452.8" r="3.3" stroke-width="1.25" fill="#fff"/>
<line x1="441.9" y1="456.5" x2="449.7" y2="449.1" stroke-width="1.25"/>
<circle cx="459.1" cy="452.8" r="3.3" stroke-width="1.25" fill="#fff"/>
<line x1="455.2" y1="456.5" x2="463" y2="449.1" stroke-width="1.25"/>
<circle cx="472.7" cy="452.8" r="3.3" stroke-width="1.25" fill="#fff"/>
<line x1="468.8" y1="456.5" x2="476.6" y2="449.1" stroke-width="1.25"/>
<polyline points="432.3,456.1 432.3,466.2 411.6,466.2 411.6,472.6 418.2,489.6"/>
<rect x="418" y="486.4" width="2" height="3.8" stroke-width="0.9"/>
<line x1="418.4" y1="492.4" x2="426.2" y2="492.4"/>
<line x1="407.4" y1="479.3" x2="423.3" y2="479.3" stroke-width="0.9" stroke-dasharray="2,1.2"/>
<polygon points="408.2,477.9 405,479.3 408.2,480.7" stroke-width="0.6" fill="#2e2e2e"/>
<polyline points="421.2,476.2 423,476.2 423,482.5 424.8,482.5" stroke-width="1"/>
<polyline points="409.2,486.4 405.6,486.4 405.6,526.3 492.5,526.3 492.5,520"/>
<line x1="426.2" y1="492.4" x2="439.7" y2="497.5"/>
<polyline points="440.3,497.6 440.3,492.8 472.7,492.8"/>
<polyline points="428.2,489.4 428.2,487.8 435.3,487.8 435.3,489.4" stroke-width="0.9"/>
<line x1="431.8" y1="487.8" x2="431.8" y2="494.4" stroke-width="0.9" stroke-dasharray="1.6,1"/>
<line x1="445.8" y1="456.1" x2="445.8" y2="492.8"/>
<circle cx="445.8" cy="492.8" r="1.8" fill="#2e2e2e" stroke="none"/>
<circle cx="459.1" cy="492.8" r="1.8" fill="#2e2e2e" stroke="none"/>
<circle cx="459.1" cy="466.1" r="1.8" fill="#2e2e2e" stroke="none"/>
<circle cx="472.7" cy="466.1" r="1.8" fill="#2e2e2e" stroke="none"/>
<line x1="459.1" y1="456.1" x2="459.1" y2="471"/>
<line x1="459.1" y1="487.5" x2="464.1" y2="470.2"/>
<line x1="459.1" y1="487.5" x2="459.1" y2="492.8"/>
<polyline points="467.8,474.85 470.6,474.85 470.6,481.65 467.8,481.65" stroke-width="1"/>
<line x1="470.6" y1="478.25" x2="461.7" y2="478.25" stroke-width="1" stroke-dasharray="2.2,1.4"/>
<line x1="472.7" y1="456.1" x2="472.7" y2="471"/>
<line x1="472.7" y1="487.5" x2="477.7" y2="470.2"/>
<line x1="472.7" y1="487.5" x2="472.7" y2="492.8"/>
<polyline points="481.4,474.85 484.2,474.85 484.2,481.65 481.4,481.65" stroke-width="1"/>
<line x1="484.2" y1="478.25" x2="475.3" y2="478.25" stroke-width="1" stroke-dasharray="2.2,1.4"/>
<polyline points="459.1,466.1 452.5,466.1 452.5,506.6"/>
<polyline points="472.7,466.1 492.5,466.1 492.5,506.6"/>
<line x1="445.6" y1="506.8" x2="452.5" y2="521.6"/>
<line x1="452.5" y1="521.6" x2="452.5" y2="526.3"/>
<circle cx="452.5" cy="526.3" r="1.8" fill="#2e2e2e" stroke="none"/>
<line x1="485.5" y1="506.8" x2="492.5" y2="520.2"/>
<g stroke="none">
<text x="106.5" y="54.58" font-size="6" text-anchor="middle" stroke="#1c1c1c" stroke-width="0.32">1</text>
<text x="106.5" y="551.78" font-size="6" text-anchor="middle" stroke="#1c1c1c" stroke-width="0.32">1</text>
<text x="302" y="54.58" font-size="6" text-anchor="middle" stroke="#1c1c1c" stroke-width="0.32">2</text>
<text x="302" y="551.78" font-size="6" text-anchor="middle" stroke="#1c1c1c" stroke-width="0.32">2</text>
<text x="497.5" y="54.58" font-size="6" text-anchor="middle" stroke="#1c1c1c" stroke-width="0.32">3</text>
<text x="497.5" y="551.78" font-size="6" text-anchor="middle" stroke="#1c1c1c" stroke-width="0.32">3</text>
<text x="693" y="54.58" font-size="6" text-anchor="middle" stroke="#1c1c1c" stroke-width="0.32">4</text>
<text x="693" y="551.78" font-size="6" text-anchor="middle" stroke="#1c1c1c" stroke-width="0.32">4</text>
<text x="15.4" y="114.98" font-size="6" text-anchor="middle" stroke="#1c1c1c" stroke-width="0.32">D</text>
<text x="784.6" y="114.98" font-size="6" text-anchor="middle" stroke="#1c1c1c" stroke-width="0.32">D</text>
<text x="15.4" y="242.98" font-size="6" text-anchor="middle" stroke="#1c1c1c" stroke-width="0.32">C</text>
<text x="784.6" y="242.98" font-size="6" text-anchor="middle" stroke="#1c1c1c" stroke-width="0.32">C</text>
<text x="15.4" y="370.98" font-size="6" text-anchor="middle" stroke="#1c1c1c" stroke-width="0.32">B</text>
<text x="784.6" y="370.98" font-size="6" text-anchor="middle" stroke="#1c1c1c" stroke-width="0.32">B</text>
<text x="15.4" y="498.98" font-size="6" text-anchor="middle" stroke="#1c1c1c" stroke-width="0.32">A</text>
<text x="784.6" y="498.98" font-size="6" text-anchor="middle" stroke="#1c1c1c" stroke-width="0.32">A</text>
<text x="519.8" y="76.1" font-size="8.6" text-anchor="middle" font-weight="600" letter-spacing="0.6">合同号</text>
<text x="664.3" y="75.6" font-size="8.6" text-anchor="middle" font-weight="600" letter-spacing="1.2">图号</text>
<text x="733" y="81.34" font-size="9.5" text-anchor="middle" font-weight="bold" stroke="#1c1c1c" stroke-width="0.3">zq3e-smc</text>
<text x="476.9" y="100.58" font-size="6.9" font-weight="700" letter-spacing="0.6" stroke="#1c1c1c" stroke-width="0.18">说明：</text>
<text x="480.3" y="115.38" font-size="6.6" font-weight="600" textLength="173.2" lengthAdjust="spacingAndGlyphs" stroke="#1c1c1c" stroke-width="0.18">1、本图表示电动阀门处于中间位置，状态继电器非激励。</text>
<text x="480.3" y="128.98" font-size="6.6" font-weight="600" stroke="#1c1c1c" stroke-width="0.18">2、</text>
<text x="502.6" y="128.98" font-size="6.6" font-weight="600" textLength="54" lengthAdjust="spacingAndGlyphs" stroke="#1c1c1c" stroke-width="0.18">：用户接线端子。</text>
<text x="478.8" y="142.55" font-size="9.3" font-weight="700" textLength="299" lengthAdjust="spacingAndGlyphs">3、如远控需要开关量控制信号，请先将端子板外侧的红色短接线拆除。</text>
<text x="510.8" y="160.16" font-size="6" font-weight="600" stroke="#1c1c1c" stroke-width="0.18">表一</text>
<text x="510.8" y="306.16" font-size="6" font-weight="600" stroke="#1c1c1c" stroke-width="0.18">表二</text>
<text x="524.2" y="194.75" font-size="5.7" text-anchor="middle" font-weight="700" letter-spacing="1.6" stroke="#1c1c1c" stroke-width="0.18">端子号</text>
<text x="524.2" y="208.25" font-size="5.7" text-anchor="middle" font-weight="700" letter-spacing="0.3" stroke="#1c1c1c" stroke-width="0.18">电路图号</text>
<text x="712.37" y="221.85" font-size="5.7" text-anchor="middle" font-weight="700" letter-spacing="1.6" stroke="#1c1c1c" stroke-width="0.18">端子号</text>
<text x="712.37" y="235.45" font-size="5.7" text-anchor="middle" font-weight="700" letter-spacing="0.3" stroke="#1c1c1c" stroke-width="0.18">电路图号</text>
<text x="544.41" y="196.46" font-size="10.8" text-anchor="middle" stroke="#1c1c1c" stroke-width="0.3">1</text>
<text x="557.82" y="196.46" font-size="10.8" text-anchor="middle" stroke="#1c1c1c" stroke-width="0.3">2</text>
<text x="571.23" y="196.46" font-size="10.8" text-anchor="middle" stroke="#1c1c1c" stroke-width="0.3">3</text>
<text x="584.63" y="196.46" font-size="10.8" text-anchor="middle" stroke="#1c1c1c" stroke-width="0.3">4</text>
<text x="598.05" y="196.46" font-size="10.8" text-anchor="middle" stroke="#1c1c1c" stroke-width="0.3">5</text>
<text x="611.46" y="196.46" font-size="10.8" text-anchor="middle" stroke="#1c1c1c" stroke-width="0.3">6</text>
<text x="624.87" y="196.46" font-size="10.8" text-anchor="middle" stroke="#1c1c1c" stroke-width="0.3">7</text>
<text x="638.28" y="196.46" font-size="10.8" text-anchor="middle" stroke="#1c1c1c" stroke-width="0.3">8</text>
<text x="651.69" y="196.46" font-size="10.8" text-anchor="middle" stroke="#1c1c1c" stroke-width="0.3">9</text>
<text x="665.1" y="196.46" font-size="10.8" text-anchor="middle" textLength="9.6" lengthAdjust="spacingAndGlyphs" stroke="#1c1c1c" stroke-width="0.3">10</text>
<text x="678.51" y="196.46" font-size="10.8" text-anchor="middle" textLength="9.6" lengthAdjust="spacingAndGlyphs" stroke="#1c1c1c" stroke-width="0.3">11</text>
<text x="691.92" y="196.46" font-size="10.8" text-anchor="middle" textLength="9.6" lengthAdjust="spacingAndGlyphs" stroke="#1c1c1c" stroke-width="0.3">12</text>
<text x="705.33" y="196.46" font-size="10.8" text-anchor="middle" textLength="9.6" lengthAdjust="spacingAndGlyphs" stroke="#1c1c1c" stroke-width="0.3">13</text>
<text x="718.74" y="196.46" font-size="10.8" text-anchor="middle" textLength="9.6" lengthAdjust="spacingAndGlyphs" stroke="#1c1c1c" stroke-width="0.3">14</text>
<text x="732.14" y="196.46" font-size="10.8" text-anchor="middle" textLength="9.6" lengthAdjust="spacingAndGlyphs" stroke="#1c1c1c" stroke-width="0.3">15</text>
<text x="745.56" y="196.46" font-size="10.8" text-anchor="middle" textLength="9.6" lengthAdjust="spacingAndGlyphs" stroke="#1c1c1c" stroke-width="0.3">16</text>
<text x="758.97" y="196.46" font-size="10.8" text-anchor="middle" textLength="9.6" lengthAdjust="spacingAndGlyphs" stroke="#1c1c1c" stroke-width="0.3">17</text>
<text x="544.41" y="209.96" font-size="10.8" text-anchor="middle" stroke="#1c1c1c" stroke-width="0.3">1</text>
<text x="557.82" y="209.96" font-size="10.8" text-anchor="middle" stroke="#1c1c1c" stroke-width="0.3">2</text>
<text x="571.23" y="209.96" font-size="10.8" text-anchor="middle" stroke="#1c1c1c" stroke-width="0.3">3</text>
<text x="598.05" y="209.96" font-size="10.8" text-anchor="middle" stroke="#1c1c1c" stroke-width="0.3">5</text>
<text x="611.46" y="209.96" font-size="10.8" text-anchor="middle" stroke="#1c1c1c" stroke-width="0.3">6</text>
<text x="624.87" y="209.96" font-size="10.8" text-anchor="middle" stroke="#1c1c1c" stroke-width="0.3">7</text>
<text x="638.28" y="209.96" font-size="10.8" text-anchor="middle" stroke="#1c1c1c" stroke-width="0.3">8</text>
<text x="651.69" y="209.96" font-size="10.8" text-anchor="middle" stroke="#1c1c1c" stroke-width="0.3">9</text>
<text x="665.1" y="209.96" font-size="10.8" text-anchor="middle" textLength="9.6" lengthAdjust="spacingAndGlyphs" stroke="#1c1c1c" stroke-width="0.3">11</text>
<text x="678.51" y="209.96" font-size="10.8" text-anchor="middle" textLength="9.6" lengthAdjust="spacingAndGlyphs" stroke="#1c1c1c" stroke-width="0.3">12</text>
<text x="691.92" y="209.96" font-size="10.8" text-anchor="middle" textLength="9.6" lengthAdjust="spacingAndGlyphs" stroke="#1c1c1c" stroke-width="0.3">13</text>
<text x="705.33" y="209.96" font-size="10.8" text-anchor="middle" textLength="9.6" lengthAdjust="spacingAndGlyphs" stroke="#1c1c1c" stroke-width="0.3">14</text>
<text x="718.74" y="209.96" font-size="10.8" text-anchor="middle" textLength="9.6" lengthAdjust="spacingAndGlyphs" stroke="#1c1c1c" stroke-width="0.3">15</text>
<text x="732.14" y="209.96" font-size="10.8" text-anchor="middle" textLength="9.6" lengthAdjust="spacingAndGlyphs" stroke="#1c1c1c" stroke-width="0.3">16</text>
<text x="745.56" y="209.96" font-size="10.8" text-anchor="middle" textLength="9.6" lengthAdjust="spacingAndGlyphs" stroke="#1c1c1c" stroke-width="0.3">17</text>
<text x="758.97" y="209.96" font-size="10.8" text-anchor="middle" textLength="9.6" lengthAdjust="spacingAndGlyphs" stroke="#1c1c1c" stroke-width="0.3">31</text>
<text x="732.14" y="223.46" font-size="10.8" text-anchor="middle" textLength="9.6" lengthAdjust="spacingAndGlyphs" stroke="#1c1c1c" stroke-width="0.3">18</text>
<text x="745.56" y="223.46" font-size="10.8" text-anchor="middle" textLength="9.6" lengthAdjust="spacingAndGlyphs" stroke="#1c1c1c" stroke-width="0.3">19</text>
<text x="758.97" y="223.46" font-size="10.8" text-anchor="middle" textLength="9.6" lengthAdjust="spacingAndGlyphs" stroke="#1c1c1c" stroke-width="0.3">20</text>
<text x="732.14" y="237.16" font-size="10.8" text-anchor="middle" textLength="9.6" lengthAdjust="spacingAndGlyphs" stroke="#1c1c1c" stroke-width="0.3">32</text>
<text x="745.56" y="237.16" font-size="10.8" text-anchor="middle" textLength="9.6" lengthAdjust="spacingAndGlyphs" stroke="#1c1c1c" stroke-width="0.3">33</text>
<text x="758.97" y="237.16" font-size="10.8" text-anchor="middle" textLength="9.6" lengthAdjust="spacingAndGlyphs" stroke="#1c1c1c" stroke-width="0.3">34</text>
<text x="499.8" y="178" font-size="13.6" font-weight="600" letter-spacing="0.7">（普通型）</text>
<text x="565.4" y="178.11" font-size="6.7" font-weight="700" stroke="#1c1c1c" stroke-width="0.18">端子接线对照表</text>
<text x="524.2" y="259.15" font-size="5.7" text-anchor="middle" font-weight="700" letter-spacing="1.6" stroke="#1c1c1c" stroke-width="0.18">端子号</text>
<text x="524.2" y="272.65" font-size="5.7" text-anchor="middle" font-weight="700" letter-spacing="0.3" stroke="#1c1c1c" stroke-width="0.18">电路图号</text>
<text x="712.37" y="286.25" font-size="5.7" text-anchor="middle" font-weight="700" letter-spacing="1.6" stroke="#1c1c1c" stroke-width="0.18">端子号</text>
<text x="712.37" y="299.85" font-size="5.7" text-anchor="middle" font-weight="700" letter-spacing="0.3" stroke="#1c1c1c" stroke-width="0.18">电路图号</text>
<text x="544.41" y="260.86" font-size="10.8" text-anchor="middle" stroke="#1c1c1c" stroke-width="0.3">U</text>
<text x="557.82" y="260.86" font-size="10.8" text-anchor="middle" stroke="#1c1c1c" stroke-width="0.3">V</text>
<text x="571.23" y="260.86" font-size="10.8" text-anchor="middle" stroke="#1c1c1c" stroke-width="0.3">W</text>
<text x="584.63" y="260.86" font-size="10.8" text-anchor="middle" stroke="#1c1c1c" stroke-width="0.3">E</text>
<text x="598.05" y="260.86" font-size="10.8" text-anchor="middle" stroke="#1c1c1c" stroke-width="0.3">1</text>
<text x="611.46" y="260.86" font-size="10.8" text-anchor="middle" stroke="#1c1c1c" stroke-width="0.3">2</text>
<text x="624.87" y="260.86" font-size="10.8" text-anchor="middle" stroke="#1c1c1c" stroke-width="0.3">3</text>
<text x="638.28" y="260.86" font-size="10.8" text-anchor="middle" stroke="#1c1c1c" stroke-width="0.3">4</text>
<text x="651.69" y="260.86" font-size="10.8" text-anchor="middle" stroke="#1c1c1c" stroke-width="0.3">5</text>
<text x="665.1" y="260.86" font-size="10.8" text-anchor="middle" stroke="#1c1c1c" stroke-width="0.3">6</text>
<text x="678.51" y="260.86" font-size="10.8" text-anchor="middle" stroke="#1c1c1c" stroke-width="0.3">7</text>
<text x="691.92" y="260.86" font-size="10.8" text-anchor="middle" stroke="#1c1c1c" stroke-width="0.3">8</text>
<text x="705.33" y="260.86" font-size="10.8" text-anchor="middle" stroke="#1c1c1c" stroke-width="0.3">9</text>
<text x="718.74" y="260.86" font-size="10.8" text-anchor="middle" textLength="9.6" lengthAdjust="spacingAndGlyphs" stroke="#1c1c1c" stroke-width="0.3">10</text>
<text x="732.14" y="260.86" font-size="10.8" text-anchor="middle" textLength="9.6" lengthAdjust="spacingAndGlyphs" stroke="#1c1c1c" stroke-width="0.3">11</text>
<text x="745.56" y="260.86" font-size="10.8" text-anchor="middle" textLength="9.6" lengthAdjust="spacingAndGlyphs" stroke="#1c1c1c" stroke-width="0.3">12</text>
<text x="758.97" y="260.86" font-size="10.8" text-anchor="middle" textLength="9.6" lengthAdjust="spacingAndGlyphs" stroke="#1c1c1c" stroke-width="0.3">13</text>
<text x="544.41" y="274.36" font-size="10.8" text-anchor="middle" stroke="#1c1c1c" stroke-width="0.3">1</text>
<text x="557.82" y="274.36" font-size="10.8" text-anchor="middle" stroke="#1c1c1c" stroke-width="0.3">2</text>
<text x="571.23" y="274.36" font-size="10.8" text-anchor="middle" stroke="#1c1c1c" stroke-width="0.3">3</text>
<text x="598.05" y="274.36" font-size="10.8" text-anchor="middle" stroke="#1c1c1c" stroke-width="0.3">5</text>
<text x="611.46" y="274.36" font-size="10.8" text-anchor="middle" stroke="#1c1c1c" stroke-width="0.3">6</text>
<text x="624.87" y="274.36" font-size="10.8" text-anchor="middle" stroke="#1c1c1c" stroke-width="0.3">7</text>
<text x="638.28" y="274.36" font-size="10.8" text-anchor="middle" stroke="#1c1c1c" stroke-width="0.3">8</text>
<text x="651.69" y="274.36" font-size="10.8" text-anchor="middle" stroke="#1c1c1c" stroke-width="0.3">9</text>
<text x="665.1" y="274.36" font-size="10.8" text-anchor="middle" textLength="9.6" lengthAdjust="spacingAndGlyphs" stroke="#1c1c1c" stroke-width="0.3">11</text>
<text x="678.51" y="274.36" font-size="10.8" text-anchor="middle" textLength="9.6" lengthAdjust="spacingAndGlyphs" stroke="#1c1c1c" stroke-width="0.3">12</text>
<text x="691.92" y="274.36" font-size="10.8" text-anchor="middle" textLength="9.6" lengthAdjust="spacingAndGlyphs" stroke="#1c1c1c" stroke-width="0.3">13</text>
<text x="705.33" y="274.36" font-size="10.8" text-anchor="middle" textLength="9.6" lengthAdjust="spacingAndGlyphs" stroke="#1c1c1c" stroke-width="0.3">14</text>
<text x="718.74" y="274.36" font-size="10.8" text-anchor="middle" textLength="9.6" lengthAdjust="spacingAndGlyphs" stroke="#1c1c1c" stroke-width="0.3">15</text>
<text x="732.14" y="274.36" font-size="10.8" text-anchor="middle" textLength="9.6" lengthAdjust="spacingAndGlyphs" stroke="#1c1c1c" stroke-width="0.3">16</text>
<text x="745.56" y="274.36" font-size="10.8" text-anchor="middle" textLength="9.6" lengthAdjust="spacingAndGlyphs" stroke="#1c1c1c" stroke-width="0.3">17</text>
<text x="758.97" y="274.36" font-size="10.8" text-anchor="middle" textLength="9.6" lengthAdjust="spacingAndGlyphs" stroke="#1c1c1c" stroke-width="0.3">31</text>
<text x="732.14" y="287.86" font-size="10.8" text-anchor="middle" textLength="9.6" lengthAdjust="spacingAndGlyphs" stroke="#1c1c1c" stroke-width="0.3">14</text>
<text x="745.56" y="287.86" font-size="10.8" text-anchor="middle" textLength="9.6" lengthAdjust="spacingAndGlyphs" stroke="#1c1c1c" stroke-width="0.3">15</text>
<text x="758.97" y="287.86" font-size="10.8" text-anchor="middle" textLength="9.6" lengthAdjust="spacingAndGlyphs" stroke="#1c1c1c" stroke-width="0.3">16</text>
<text x="732.14" y="301.56" font-size="10.8" text-anchor="middle" textLength="9.6" lengthAdjust="spacingAndGlyphs" stroke="#1c1c1c" stroke-width="0.3">32</text>
<text x="745.56" y="301.56" font-size="10.8" text-anchor="middle" textLength="9.6" lengthAdjust="spacingAndGlyphs" stroke="#1c1c1c" stroke-width="0.3">33</text>
<text x="758.97" y="301.56" font-size="10.8" text-anchor="middle" textLength="9.6" lengthAdjust="spacingAndGlyphs" stroke="#1c1c1c" stroke-width="0.3">34</text>
<text x="499.8" y="242.4" font-size="13.6" font-weight="600" letter-spacing="0.7">（防爆型）</text>
<text x="565.4" y="242.51" font-size="6.7" font-weight="700" stroke="#1c1c1c" stroke-width="0.18">端子接线对照表</text>
<text x="608" y="323.46" font-size="9.6" text-anchor="middle" font-weight="600">元</text>
<text x="637.2" y="323.46" font-size="9.6" text-anchor="middle" font-weight="600">件</text>
<text x="665.6" y="323.46" font-size="9.6" text-anchor="middle" font-weight="600">表</text>
<text x="513.6" y="335.19" font-size="7" text-anchor="middle" stroke="#1c1c1c" stroke-width="0.25">11</text>
<text x="535.4" y="335.16" font-size="6.9" text-anchor="middle" stroke="#1c1c1c" stroke-width="0.32">RH</text>
<text x="561.9" y="334.76" font-size="6.05" font-weight="600" stroke="#1c1c1c" stroke-width="0.18">空间加热器、24k/25w</text>
<text x="648.3" y="335.19" font-size="7" text-anchor="middle" stroke="#1c1c1c" stroke-width="0.25">11</text>
<text x="513.6" y="345.37" font-size="7" text-anchor="middle" stroke="#1c1c1c" stroke-width="0.25">10</text>
<text x="535.2" y="345.33" font-size="6.9" text-anchor="middle" stroke="#1c1c1c" stroke-width="0.32">CT</text>
<text x="561.9" y="344.93" font-size="6.05" font-weight="600" stroke="#1c1c1c" stroke-width="0.18">电流传感器</text>
<text x="648.3" y="345.37" font-size="7" text-anchor="middle" stroke="#1c1c1c" stroke-width="0.25">10</text>
<text x="513.6" y="355.53" font-size="7" text-anchor="middle" stroke="#1c1c1c" stroke-width="0.25">9</text>
<text x="539.2" y="355.5" font-size="6.9" text-anchor="middle" stroke="#1c1c1c" stroke-width="0.32">RL1-5</text>
<text x="561.9" y="355.1" font-size="6.05" font-weight="600" stroke="#1c1c1c" stroke-width="0.18">状态输出继电器</text>
<text x="648.3" y="355.53" font-size="7" text-anchor="middle" stroke="#1c1c1c" stroke-width="0.25">9</text>
<text x="513.6" y="365.7" font-size="7" text-anchor="middle" stroke="#1c1c1c" stroke-width="0.25">8</text>
<text x="536.3" y="365.67" font-size="6.9" text-anchor="middle" stroke="#1c1c1c" stroke-width="0.32">RP1</text>
<text x="561.9" y="365.27" font-size="6.05" font-weight="600" stroke="#1c1c1c" stroke-width="0.18">位置反馈电位器</text>
<text x="648.3" y="365.7" font-size="7" text-anchor="middle" stroke="#1c1c1c" stroke-width="0.25">8</text>
<text x="513.6" y="375.88" font-size="7" text-anchor="middle" stroke="#1c1c1c" stroke-width="0.25">7</text>
<text x="537" y="375.84" font-size="6.9" text-anchor="middle" stroke="#1c1c1c" stroke-width="0.32">T/W</text>
<text x="561.9" y="375.44" font-size="6.05" font-weight="600" stroke="#1c1c1c" stroke-width="0.18">事故/电源指示灯</text>
<text x="648.3" y="375.88" font-size="7" text-anchor="middle" stroke="#1c1c1c" stroke-width="0.25">7</text>
<text x="513.6" y="386.05" font-size="7" text-anchor="middle" stroke="#1c1c1c" stroke-width="0.25">6</text>
<text x="536.3" y="386.01" font-size="6.9" text-anchor="middle" stroke="#1c1c1c" stroke-width="0.32">O/C</text>
<text x="561.9" y="385.61" font-size="6.05" font-weight="600" stroke="#1c1c1c" stroke-width="0.18">阀开/阀关指示灯</text>
<text x="648.3" y="386.05" font-size="7" text-anchor="middle" stroke="#1c1c1c" stroke-width="0.25">6</text>
<text x="513.6" y="396.21" font-size="7" text-anchor="middle" stroke="#1c1c1c" stroke-width="0.25">5</text>
<text x="535.8" y="396.18" font-size="6.9" text-anchor="middle" stroke="#1c1c1c" stroke-width="0.32">L/R</text>
<text x="561.9" y="395.78" font-size="6.05" font-weight="600" stroke="#1c1c1c" stroke-width="0.18">本地/远程工作指示灯</text>
<text x="648.3" y="396.21" font-size="7" text-anchor="middle" stroke="#1c1c1c" stroke-width="0.25">5</text>
<text x="513.6" y="406.38" font-size="7" text-anchor="middle" stroke="#1c1c1c" stroke-width="0.25">4</text>
<text x="537.5" y="406.35" font-size="6.9" text-anchor="middle" stroke="#1c1c1c" stroke-width="0.32">STO STC</text>
<text x="561.9" y="405.95" font-size="6.05" font-weight="600" stroke="#1c1c1c" stroke-width="0.18">开、关向力矩限位开关</text>
<text x="648.3" y="406.38" font-size="7" text-anchor="middle" stroke="#1c1c1c" stroke-width="0.25">4</text>
<text x="670.2" y="406.06" font-size="6" text-anchor="middle" stroke="#1c1c1c" stroke-width="0.32">SSE1</text>
<text x="693" y="405.95" font-size="6.05" font-weight="600" stroke="#1c1c1c" stroke-width="0.18">选择旋钮</text>
<text x="513.6" y="416.56" font-size="7" text-anchor="middle" stroke="#1c1c1c" stroke-width="0.25">3</text>
<text x="537.3" y="416.52" font-size="6.9" text-anchor="middle" stroke="#1c1c1c" stroke-width="0.32">SL4  SL8</text>
<text x="561.9" y="416.12" font-size="6.05" font-weight="600" stroke="#1c1c1c" stroke-width="0.18">开、关向行程限位开关</text>
<text x="648.3" y="416.56" font-size="7" text-anchor="middle" stroke="#1c1c1c" stroke-width="0.25">3</text>
<text x="670.2" y="416.23" font-size="6" text-anchor="middle" stroke="#1c1c1c" stroke-width="0.32">SC1</text>
<text x="693" y="416.12" font-size="6.05" font-weight="600" stroke="#1c1c1c" stroke-width="0.18">手动关阀按钮</text>
<text x="513.6" y="426.73" font-size="7" text-anchor="middle" stroke="#1c1c1c" stroke-width="0.25">2</text>
<text x="537.2" y="426.69" font-size="6.9" text-anchor="middle" stroke="#1c1c1c" stroke-width="0.32">KM1-2</text>
<text x="561.9" y="426.29" font-size="6.05" font-weight="600" stroke="#1c1c1c" stroke-width="0.18">交流接触器</text>
<text x="648.3" y="426.73" font-size="7" text-anchor="middle" stroke="#1c1c1c" stroke-width="0.25">2</text>
<text x="670.2" y="426.4" font-size="6" text-anchor="middle" stroke="#1c1c1c" stroke-width="0.32">SO1</text>
<text x="693" y="426.29" font-size="6.05" font-weight="600" stroke="#1c1c1c" stroke-width="0.18">手动开阀按钮</text>
<text x="513.6" y="436.89" font-size="7" text-anchor="middle" stroke="#1c1c1c" stroke-width="0.25">1</text>
<text x="537.2" y="436.86" font-size="6.9" text-anchor="middle" stroke="#1c1c1c" stroke-width="0.32">M</text>
<text x="561" y="436.41" font-size="5.9" font-weight="600" textLength="76" lengthAdjust="spacingAndGlyphs" stroke="#1c1c1c" stroke-width="0.18">阀门专用电机（带TH热元件）</text>
<text x="648.3" y="436.89" font-size="7" text-anchor="middle" stroke="#1c1c1c" stroke-width="0.25">1</text>
<text x="670.2" y="436.56" font-size="6" text-anchor="middle" stroke="#1c1c1c" stroke-width="0.32">SS1</text>
<text x="693" y="436.46" font-size="6.05" font-weight="600" stroke="#1c1c1c" stroke-width="0.18">手动停止按钮</text>
<text x="514.5" y="446.77" font-size="5.8" text-anchor="middle" font-weight="600" stroke="#1c1c1c" stroke-width="0.18">序号</text>
<text x="537.6" y="446.77" font-size="5.8" text-anchor="middle" font-weight="600" stroke="#1c1c1c" stroke-width="0.18">标 号</text>
<text x="588.4" y="446.77" font-size="5.8" text-anchor="middle" font-weight="600" stroke="#1c1c1c" stroke-width="0.18">名</text>
<text x="607.5" y="446.77" font-size="5.8" text-anchor="middle" font-weight="600" stroke="#1c1c1c" stroke-width="0.18">称</text>
<text x="648.3" y="446.77" font-size="5.8" text-anchor="middle" font-weight="600" stroke="#1c1c1c" stroke-width="0.18">序号</text>
<text x="671" y="446.77" font-size="5.8" text-anchor="middle" font-weight="600" stroke="#1c1c1c" stroke-width="0.18">标 号</text>
<text x="720.5" y="446.77" font-size="5.8" text-anchor="middle" font-weight="600" stroke="#1c1c1c" stroke-width="0.18">名</text>
<text x="738.5" y="446.77" font-size="5.8" text-anchor="middle" font-weight="600" stroke="#1c1c1c" stroke-width="0.18">称</text>
<text x="575" y="459.38" font-size="6.6" text-anchor="middle" font-weight="600" letter-spacing="1.3" stroke="#1c1c1c" stroke-width="0.18">在电动装置上</text>
<text x="705.2" y="459.38" font-size="6.6" text-anchor="middle" font-weight="600" letter-spacing="1.1" stroke="#1c1c1c" stroke-width="0.18">在控制室内</text>
<text x="516.8" y="483.18" font-size="9.4" text-anchor="middle" font-weight="600">备注</text>
<text x="608" y="483.13" font-size="9.8" text-anchor="middle" font-weight="600">整体调节型</text>
<text x="512.8" y="510.23" font-size="11.2" text-anchor="middle" font-weight="600">名</text>
<text x="512.8" y="537.03" font-size="11.2" text-anchor="middle" font-weight="600">称</text>
<text x="604" y="513.93" font-size="11" text-anchor="middle" stroke="#1c1c1c" stroke-width="0.3">SMC</text>
<text x="610.8" y="530.87" font-size="10.2" text-anchor="middle" font-weight="600" textLength="132.5" lengthAdjust="spacingAndGlyphs">系列阀门电动装置电气原理图</text>
<text x="735.6" y="508.09" font-size="9.7" text-anchor="middle" font-weight="500">适用于SMC</text>
<text x="739" y="517.38" font-size="9.4" text-anchor="middle" font-weight="500" textLength="70.5" lengthAdjust="spacingAndGlyphs">(AC380V3相3线)</text>
<text x="739" y="529.22" font-size="9.5" text-anchor="middle" font-weight="500" textLength="58.5" lengthAdjust="spacingAndGlyphs">天津百利二通</text>
<text x="739" y="538.62" font-size="9.5" text-anchor="middle" font-weight="500" textLength="58.5" lengthAdjust="spacingAndGlyphs">机械有限公司</text>
<text x="228.7" y="69.98" font-size="6.6" text-anchor="middle" stroke="#1c1c1c" stroke-width="0.32">KM1</text>
<text x="276" y="69.98" font-size="6.6" text-anchor="middle" stroke="#1c1c1c" stroke-width="0.32">KM2</text>
<text x="415" y="87.72" font-size="12.5" text-anchor="middle" stroke="#1c1c1c" stroke-width="0.32">M</text>
<text x="414.2" y="97.64" font-size="9.2" text-anchor="middle" stroke="#1c1c1c" stroke-width="0.32">~3</text>
<text x="426" y="104.18" font-size="4.8" text-anchor="middle" stroke="#1c1c1c" stroke-width="0.32">TH</text>
<text x="380.6" y="71.18" font-size="6.6" text-anchor="middle" stroke="#1c1c1c" stroke-width="0.32">U</text>
<text x="380.6" y="90.88" font-size="6.6" text-anchor="middle" stroke="#1c1c1c" stroke-width="0.32">V</text>
<text x="381.4" y="111.18" font-size="6.6" text-anchor="middle" stroke="#1c1c1c" stroke-width="0.32">W</text>
<text x="345.4" y="106.68" font-size="6.3" text-anchor="middle" stroke="#1c1c1c" stroke-width="0.32">CT</text>
<text x="143.7" y="155.54" font-size="6.5" text-anchor="middle" font-weight="600" stroke="#1c1c1c" stroke-width="0.18">电源变换</text>
<text x="143.7" y="169.54" font-size="6.5" text-anchor="middle" font-weight="600" stroke="#1c1c1c" stroke-width="0.18">自动换相</text>
<text x="143.7" y="183.14" font-size="6.5" text-anchor="middle" font-weight="600" stroke="#1c1c1c" stroke-width="0.18">断相保护</text>
<text x="197.1" y="162.51" font-size="6.4" text-anchor="middle" stroke="#1c1c1c" stroke-width="0.32">KM1</text>
<text x="237.9" y="162.51" font-size="6.4" text-anchor="middle" stroke="#1c1c1c" stroke-width="0.32">KM2</text>
<text x="211.2" y="184.78" font-size="6.6" text-anchor="middle" stroke="#1c1c1c" stroke-width="0.32">KM2</text>
<text x="251.6" y="184.78" font-size="6.6" text-anchor="middle" stroke="#1c1c1c" stroke-width="0.32">KM1</text>
<text x="99.4" y="209.98" font-size="6" text-anchor="middle" stroke="#1c1c1c" stroke-width="0.32">RH</text>
<text x="58.7" y="363.28" font-size="6" text-anchor="middle" stroke="#1c1c1c" stroke-width="0.32">1</text>
<text x="59.5" y="383.75" font-size="6.5" text-anchor="middle" stroke="#1c1c1c" stroke-width="0.32">L1</text>
<text x="72.4" y="363.28" font-size="6" text-anchor="middle" stroke="#1c1c1c" stroke-width="0.32">2</text>
<text x="73.2" y="383.75" font-size="6.5" text-anchor="middle" stroke="#1c1c1c" stroke-width="0.32">L2</text>
<text x="85.9" y="363.28" font-size="6" text-anchor="middle" stroke="#1c1c1c" stroke-width="0.32">3</text>
<text x="89.7" y="383.75" font-size="6.5" text-anchor="middle" stroke="#1c1c1c" stroke-width="0.32">L3</text>
<text x="43" y="275.62" font-size="5.6" text-anchor="middle" font-weight="600" stroke="#1c1c1c" stroke-width="0.18">电</text>
<text x="43" y="282.58" font-size="5.6" text-anchor="middle" font-weight="600" stroke="#1c1c1c" stroke-width="0.18">动</text>
<text x="43" y="289.54" font-size="5.6" text-anchor="middle" font-weight="600" stroke="#1c1c1c" stroke-width="0.18">装</text>
<text x="43" y="296.5" font-size="5.6" text-anchor="middle" font-weight="600" stroke="#1c1c1c" stroke-width="0.18">置</text>
<text x="43" y="303.46" font-size="5.6" text-anchor="middle" font-weight="600" stroke="#1c1c1c" stroke-width="0.18">内</text>
<text x="43" y="310.42" font-size="5.6" text-anchor="middle" font-weight="600" stroke="#1c1c1c" stroke-width="0.18">部</text>
<text x="43" y="317.38" font-size="5.6" text-anchor="middle" font-weight="600" stroke="#1c1c1c" stroke-width="0.18">接</text>
<text x="43" y="324.34" font-size="5.6" text-anchor="middle" font-weight="600" stroke="#1c1c1c" stroke-width="0.18">线</text>
<text x="48.6" y="417.63" font-size="6.2" text-anchor="middle" font-weight="700" letter-spacing="0.45" stroke="#1c1c1c" stroke-width="0.18">控制室接线</text>
<text x="48.6" y="427.16" font-size="6" text-anchor="middle" font-weight="700" textLength="41" lengthAdjust="spacingAndGlyphs" stroke="#1c1c1c" stroke-width="0.18">（仅供参考）</text>
<text x="167" y="209.47" font-size="6.3" text-anchor="middle" font-weight="600" stroke="#1c1c1c" stroke-width="0.18">选择旋钮</text>
<text x="146.6" y="226.07" font-size="6.3" text-anchor="middle" font-weight="600" stroke="#1c1c1c" stroke-width="0.18">本地</text>
<text x="190.4" y="226.07" font-size="6.3" text-anchor="middle" font-weight="600" stroke="#1c1c1c" stroke-width="0.18">远程</text>
<text x="167" y="249.87" font-size="6.3" text-anchor="middle" font-weight="600" stroke="#1c1c1c" stroke-width="0.18">停</text>
<text x="146.4" y="270.27" font-size="6.3" text-anchor="middle" font-weight="600" stroke="#1c1c1c" stroke-width="0.18">开阀</text>
<text x="190.6" y="270.27" font-size="6.3" text-anchor="middle" font-weight="600" stroke="#1c1c1c" stroke-width="0.18">关阀</text>
<text x="167" y="294.87" font-size="6.3" text-anchor="middle" font-weight="600" stroke="#1c1c1c" stroke-width="0.18">控制旋钮</text>
<text x="237.8" y="248.65" font-size="6.5" text-anchor="middle" stroke="#1c1c1c" stroke-width="0.32">L/R</text>
<text x="277.8" y="248.65" font-size="6.5" text-anchor="middle" stroke="#1c1c1c" stroke-width="0.32">O/C</text>
<text x="318.8" y="248.65" font-size="6.5" text-anchor="middle" stroke="#1c1c1c" stroke-width="0.32">T/W</text>
<text x="232.1" y="279.53" font-size="6.75" font-weight="600" stroke="#1c1c1c" stroke-width="0.18">继电器均为非激励状态</text>
<text x="246.2" y="299.91" font-size="6.4" text-anchor="middle" stroke="#1c1c1c" stroke-width="0.32">RL1</text>
<text x="266.6" y="299.91" font-size="6.4" text-anchor="middle" stroke="#1c1c1c" stroke-width="0.32">RL2</text>
<text x="286.6" y="299.91" font-size="6.4" text-anchor="middle" stroke="#1c1c1c" stroke-width="0.32">RL3</text>
<text x="307" y="299.91" font-size="6.4" text-anchor="middle" stroke="#1c1c1c" stroke-width="0.32">RL4</text>
<text x="327.4" y="299.91" font-size="6.4" text-anchor="middle" stroke="#1c1c1c" stroke-width="0.32">RL5</text>
<text x="214.3" y="330.75" font-size="6.2" text-anchor="middle" stroke="#1c1c1c" stroke-width="0.32">1</text>
<text x="228" y="330.75" font-size="6.2" text-anchor="middle" stroke="#1c1c1c" stroke-width="0.32">2</text>
<text x="247.7" y="330.75" font-size="6.2" text-anchor="middle" stroke="#1c1c1c" stroke-width="0.32">3</text>
<text x="268" y="330.75" font-size="6.2" text-anchor="middle" stroke="#1c1c1c" stroke-width="0.32">4</text>
<text x="288" y="330.75" font-size="6.2" text-anchor="middle" stroke="#1c1c1c" stroke-width="0.32">5</text>
<text x="308" y="330.75" font-size="6.2" text-anchor="middle" stroke="#1c1c1c" stroke-width="0.32">6</text>
<text x="321.6" y="330.75" font-size="6.2" text-anchor="middle" stroke="#1c1c1c" stroke-width="0.32">7</text>
<text x="203.2" y="316.11" font-size="5.8" text-anchor="middle" stroke="#1c1c1c" stroke-width="0.32">P3</text>
<text x="123" y="330.75" font-size="6.2" text-anchor="middle" stroke="#1c1c1c" stroke-width="0.32">5</text>
<text x="136.4" y="330.75" font-size="6.2" text-anchor="middle" stroke="#1c1c1c" stroke-width="0.32">6</text>
<text x="149.7" y="330.75" font-size="6.2" text-anchor="middle" stroke="#1c1c1c" stroke-width="0.32">9</text>
<text x="163.2" y="330.75" font-size="6.2" text-anchor="middle" stroke="#1c1c1c" stroke-width="0.32">7</text>
<text x="176.6" y="330.75" font-size="6.2" text-anchor="middle" stroke="#1c1c1c" stroke-width="0.32">8</text>
<text x="120" y="316.31" font-size="5.8" text-anchor="middle" stroke="#1c1c1c" stroke-width="0.32">P2</text>
<text x="137" y="312.38" font-size="6.3" text-anchor="middle" stroke="#1c1c1c" stroke-width="0.32">0V</text>
<text x="170.2" y="312.38" font-size="6.3" text-anchor="middle" stroke="#1c1c1c" stroke-width="0.32">24V</text>
<text x="349.6" y="330.75" font-size="6.2" text-anchor="middle" stroke="#1c1c1c" stroke-width="0.32">1</text>
<text x="369.5" y="330.75" font-size="6.2" text-anchor="middle" stroke="#1c1c1c" stroke-width="0.32">2</text>
<text x="390.2" y="330.75" font-size="6.2" text-anchor="middle" stroke="#1c1c1c" stroke-width="0.32">4</text>
<text x="410.3" y="330.75" font-size="6.2" text-anchor="middle" stroke="#1c1c1c" stroke-width="0.32">5</text>
<text x="345" y="315.71" font-size="5.8" text-anchor="middle" stroke="#1c1c1c" stroke-width="0.32">P5</text>
<text x="416.8" y="206.11" font-size="5.8" text-anchor="middle" stroke="#1c1c1c" stroke-width="0.32">P1</text>
<text x="431.8" y="209.88" font-size="6.3" text-anchor="middle" stroke="#1c1c1c" stroke-width="0.32">1</text>
<text x="431.8" y="223.08" font-size="6.3" text-anchor="middle" stroke="#1c1c1c" stroke-width="0.32">2</text>
<text x="431.8" y="243.38" font-size="6.3" text-anchor="middle" stroke="#1c1c1c" stroke-width="0.32">3</text>
<text x="431.8" y="263.78" font-size="6.3" text-anchor="middle" stroke="#1c1c1c" stroke-width="0.32">4</text>
<text x="431.8" y="283.88" font-size="6.3" text-anchor="middle" stroke="#1c1c1c" stroke-width="0.32">5</text>
<text x="417" y="301.51" font-size="5.8" text-anchor="middle" stroke="#1c1c1c" stroke-width="0.32">P4</text>
<text x="431.4" y="302.88" font-size="6.3" text-anchor="middle" stroke="#1c1c1c" stroke-width="0.32">F</text>
<text x="431.4" y="313.88" font-size="6.3" text-anchor="middle" stroke="#1c1c1c" stroke-width="0.32">M</text>
<text x="431.4" y="323.28" font-size="6.3" text-anchor="middle" stroke="#1c1c1c" stroke-width="0.32">Z</text>
<text x="497" y="247.12" font-size="5.2" text-anchor="middle" stroke="#1c1c1c" stroke-width="0.32">TH</text>
<text x="445.4" y="204.35" font-size="6.2" text-anchor="middle" stroke="#1c1c1c" stroke-width="0.32">51</text>
<text x="445.4" y="217.55" font-size="6.2" text-anchor="middle" stroke="#1c1c1c" stroke-width="0.32">52</text>
<text x="445.4" y="237.85" font-size="6.2" text-anchor="middle" stroke="#1c1c1c" stroke-width="0.32">53</text>
<text x="445.4" y="258.15" font-size="6.2" text-anchor="middle" stroke="#1c1c1c" stroke-width="0.32">54</text>
<text x="445.4" y="278.05" font-size="6.2" text-anchor="middle" stroke="#1c1c1c" stroke-width="0.32">55</text>
<text x="459.3" y="213.64" font-size="6.8" text-anchor="middle" stroke="#1c1c1c" stroke-width="0.32">SL4</text>
<text x="459.3" y="233.94" font-size="6.8" text-anchor="middle" stroke="#1c1c1c" stroke-width="0.32">SL8</text>
<text x="459.3" y="253.84" font-size="6.8" text-anchor="middle" stroke="#1c1c1c" stroke-width="0.32">STO</text>
<text x="459.3" y="274.24" font-size="6.8" text-anchor="middle" stroke="#1c1c1c" stroke-width="0.32">STC</text>
<text x="477.2" y="302.08" font-size="6.3" text-anchor="middle" stroke="#1c1c1c" stroke-width="0.32">RP1</text>
<text x="444" y="299.01" font-size="6.1" text-anchor="middle" stroke="#1c1c1c" stroke-width="0.32">F</text>
<text x="445" y="309.91" font-size="6.1" text-anchor="middle" stroke="#1c1c1c" stroke-width="0.32">M</text>
<text x="444" y="319.81" font-size="6.1" text-anchor="middle" stroke="#1c1c1c" stroke-width="0.32">Z</text>
<text x="119.3" y="363.28" font-size="6" text-anchor="middle" stroke="#1c1c1c" stroke-width="0.32">5</text>
<text x="132.7" y="363.28" font-size="6" text-anchor="middle" stroke="#1c1c1c" stroke-width="0.32">6</text>
<text x="146.1" y="363.28" font-size="6" text-anchor="middle" stroke="#1c1c1c" stroke-width="0.32">9</text>
<text x="159.6" y="363.28" font-size="6" text-anchor="middle" stroke="#1c1c1c" stroke-width="0.32">7</text>
<text x="173.1" y="363.28" font-size="6" text-anchor="middle" stroke="#1c1c1c" stroke-width="0.32">8</text>
<text x="154.8" y="421.75" font-size="6.5" text-anchor="middle" stroke="#1c1c1c" stroke-width="0.32">SS1</text>
<text x="169.6" y="417.44" font-size="6.5" text-anchor="middle" stroke="#1c1c1c" stroke-width="0.32">SO1</text>
<text x="186.4" y="417.44" font-size="6.5" text-anchor="middle" stroke="#1c1c1c" stroke-width="0.32">SC1</text>
<text x="124.6" y="389.84" font-size="6.5" text-anchor="middle" stroke="#1c1c1c" stroke-width="0.32">SSE1</text>
<text x="123.4" y="410.46" font-size="6" text-anchor="middle" font-weight="600" stroke="#1c1c1c" stroke-width="0.18">自动</text>
<text x="201.2" y="363.28" font-size="6" text-anchor="middle" stroke="#1c1c1c" stroke-width="0.32">11</text>
<text x="221.8" y="363.28" font-size="6" text-anchor="middle" stroke="#1c1c1c" stroke-width="0.32">12</text>
<text x="242" y="363.28" font-size="6" text-anchor="middle" stroke="#1c1c1c" stroke-width="0.32">13</text>
<text x="262.2" y="363.28" font-size="6" text-anchor="middle" stroke="#1c1c1c" stroke-width="0.32">14</text>
<text x="282.3" y="363.28" font-size="6" text-anchor="middle" stroke="#1c1c1c" stroke-width="0.32">15</text>
<text x="299.6" y="363.28" font-size="6" text-anchor="middle" stroke="#1c1c1c" stroke-width="0.32">16</text>
<text x="322.9" y="363.28" font-size="6" text-anchor="middle" stroke="#1c1c1c" stroke-width="0.32">17</text>
<text x="207.2" y="382.36" font-size="6" text-anchor="middle" font-weight="600" stroke="#1c1c1c" stroke-width="0.18">无</text>
<text x="207.2" y="389.23" font-size="6" text-anchor="middle" font-weight="600" stroke="#1c1c1c" stroke-width="0.18">源</text>
<text x="207.2" y="396.1" font-size="6" text-anchor="middle" font-weight="600" stroke="#1c1c1c" stroke-width="0.18">接</text>
<text x="207.2" y="402.97" font-size="6" text-anchor="middle" font-weight="600" stroke="#1c1c1c" stroke-width="0.18">点</text>
<text x="207.2" y="409.84" font-size="6" text-anchor="middle" font-weight="600" stroke="#1c1c1c" stroke-width="0.18">共</text>
<text x="207.2" y="416.71" font-size="6" text-anchor="middle" font-weight="600" stroke="#1c1c1c" stroke-width="0.18">用</text>
<text x="207.2" y="423.58" font-size="6" text-anchor="middle" font-weight="600" stroke="#1c1c1c" stroke-width="0.18">端</text>
<text x="227.2" y="382.36" font-size="6" text-anchor="middle" font-weight="600" stroke="#1c1c1c" stroke-width="0.18">开</text>
<text x="227.2" y="389.21" font-size="6" text-anchor="middle" font-weight="600" stroke="#1c1c1c" stroke-width="0.18">到</text>
<text x="227.2" y="396.06" font-size="6" text-anchor="middle" font-weight="600" stroke="#1c1c1c" stroke-width="0.18">位</text>
<text x="247.4" y="382.36" font-size="6" text-anchor="middle" font-weight="600" stroke="#1c1c1c" stroke-width="0.18">关</text>
<text x="247.4" y="389.21" font-size="6" text-anchor="middle" font-weight="600" stroke="#1c1c1c" stroke-width="0.18">到</text>
<text x="247.4" y="396.06" font-size="6" text-anchor="middle" font-weight="600" stroke="#1c1c1c" stroke-width="0.18">位</text>
<text x="267.6" y="382.36" font-size="6" text-anchor="middle" font-weight="600" stroke="#1c1c1c" stroke-width="0.18">过</text>
<text x="267.6" y="389.21" font-size="6" text-anchor="middle" font-weight="600" stroke="#1c1c1c" stroke-width="0.18">力</text>
<text x="267.6" y="396.06" font-size="6" text-anchor="middle" font-weight="600" stroke="#1c1c1c" stroke-width="0.18">矩</text>
<text x="287.6" y="382.36" font-size="6" text-anchor="middle" font-weight="600" stroke="#1c1c1c" stroke-width="0.18">远</text>
<text x="287.6" y="389.21" font-size="6" text-anchor="middle" font-weight="600" stroke="#1c1c1c" stroke-width="0.18">控</text>
<text x="317.6" y="382.36" font-size="6" text-anchor="middle" font-weight="600" stroke="#1c1c1c" stroke-width="0.18">监</text>
<text x="317.6" y="389.36" font-size="6" text-anchor="middle" font-weight="600" stroke="#1c1c1c" stroke-width="0.18">视</text>
<text x="317.6" y="396.36" font-size="6" text-anchor="middle" font-weight="600" stroke="#1c1c1c" stroke-width="0.18">继</text>
<text x="317.6" y="403.36" font-size="6" text-anchor="middle" font-weight="600" stroke="#1c1c1c" stroke-width="0.18">电</text>
<text x="317.6" y="410.36" font-size="6" text-anchor="middle" font-weight="600" stroke="#1c1c1c" stroke-width="0.18">器</text>
<text x="342.4" y="363.28" font-size="6" text-anchor="middle" stroke="#1c1c1c" stroke-width="0.32">31</text>
<text x="362.8" y="363.28" font-size="6" text-anchor="middle" stroke="#1c1c1c" stroke-width="0.32">32</text>
<text x="383" y="363.28" font-size="6" text-anchor="middle" stroke="#1c1c1c" stroke-width="0.32">33</text>
<text x="403.3" y="363.28" font-size="6" text-anchor="middle" stroke="#1c1c1c" stroke-width="0.32">34</text>
<text x="348.6" y="379.95" font-size="5.9" text-anchor="middle" stroke="#1c1c1c" stroke-width="0.32">O+</text>
<text x="368.2" y="379.95" font-size="5.9" text-anchor="middle" stroke="#1c1c1c" stroke-width="0.32">O-</text>
<text x="387.4" y="379.95" font-size="5.9" text-anchor="middle" stroke="#1c1c1c" stroke-width="0.32">I+</text>
<text x="406.8" y="379.95" font-size="5.9" text-anchor="middle" stroke="#1c1c1c" stroke-width="0.32">I-</text>
<text x="358" y="385.49" font-size="5.8" text-anchor="middle" font-weight="600" stroke="#1c1c1c" stroke-width="0.18">输</text>
<text x="358" y="392.44" font-size="5.8" text-anchor="middle" font-weight="600" stroke="#1c1c1c" stroke-width="0.18">出</text>
<text x="358" y="399.39" font-size="5.8" text-anchor="middle" font-weight="600" stroke="#1c1c1c" stroke-width="0.18">阀</text>
<text x="358" y="406.34" font-size="5.8" text-anchor="middle" font-weight="600" stroke="#1c1c1c" stroke-width="0.18">位</text>
<text x="358" y="413.29" font-size="5.8" text-anchor="middle" font-weight="600" stroke="#1c1c1c" stroke-width="0.18">电</text>
<text x="358" y="420.24" font-size="5.8" text-anchor="middle" font-weight="600" stroke="#1c1c1c" stroke-width="0.18">流</text>
<text x="398.4" y="385.49" font-size="5.8" text-anchor="middle" font-weight="600" stroke="#1c1c1c" stroke-width="0.18">输</text>
<text x="398.4" y="392.44" font-size="5.8" text-anchor="middle" font-weight="600" stroke="#1c1c1c" stroke-width="0.18">入</text>
<text x="398.4" y="399.39" font-size="5.8" text-anchor="middle" font-weight="600" stroke="#1c1c1c" stroke-width="0.18">控</text>
<text x="398.4" y="406.34" font-size="5.8" text-anchor="middle" font-weight="600" stroke="#1c1c1c" stroke-width="0.18">制</text>
<text x="398.4" y="413.29" font-size="5.8" text-anchor="middle" font-weight="600" stroke="#1c1c1c" stroke-width="0.18">电</text>
<text x="398.4" y="420.24" font-size="5.8" text-anchor="middle" font-weight="600" stroke="#1c1c1c" stroke-width="0.18">流</text>
<text x="357.4" y="427.12" font-size="5.5" text-anchor="middle" stroke="#1c1c1c" stroke-width="0.32">4 ~ 20mA</text>
<text x="400.6" y="427.12" font-size="5.5" text-anchor="middle" stroke="#1c1c1c" stroke-width="0.32">4 ~ 20mA</text>
<text x="419.4" y="383.66" font-size="6" font-weight="600" stroke="#1c1c1c" stroke-width="0.18">输入阻抗</text>
<text x="443.6" y="383.88" font-size="6.6" textLength="18.2" lengthAdjust="spacingAndGlyphs" stroke="#1c1c1c" stroke-width="0.32">&lt;250Ω</text>
<text x="419.4" y="396.86" font-size="6" font-weight="600" stroke="#1c1c1c" stroke-width="0.18">输出负载</text>
<text x="443.6" y="397.08" font-size="6.6" textLength="18.2" lengthAdjust="spacingAndGlyphs" stroke="#1c1c1c" stroke-width="0.32">&lt;600Ω</text>
<text x="31.2" y="447.18" font-size="6" text-anchor="middle" stroke="#1c1c1c" stroke-width="0.32">6</text>
<text x="45.2" y="447.18" font-size="6" text-anchor="middle" stroke="#1c1c1c" stroke-width="0.32">9</text>
<text x="58.7" y="447.18" font-size="6" text-anchor="middle" stroke="#1c1c1c" stroke-width="0.32">7</text>
<text x="72.3" y="447.18" font-size="6" text-anchor="middle" stroke="#1c1c1c" stroke-width="0.32">8</text>
<text x="36.8" y="502.25" font-size="6.5" text-anchor="middle" stroke="#1c1c1c" stroke-width="0.32">SS1</text>
<text x="62" y="502.25" font-size="6.5" text-anchor="middle" stroke="#1c1c1c" stroke-width="0.32">SO1</text>
<text x="78.8" y="502.25" font-size="6.5" text-anchor="middle" stroke="#1c1c1c" stroke-width="0.32">SC1</text>
<text x="32.7" y="515.06" font-size="6" font-weight="600" stroke="#1c1c1c" stroke-width="0.18">标准脉冲方式</text>
<text x="32.7" y="522.06" font-size="6" font-weight="600" stroke="#1c1c1c" stroke-width="0.18">开关自锁，可以</text>
<text x="32.7" y="528.86" font-size="6" font-weight="600" stroke="#1c1c1c" stroke-width="0.18">停止脉冲</text>
<text x="56.9" y="529.01" font-size="6.4" textLength="18.6" lengthAdjust="spacingAndGlyphs" stroke="#1c1c1c" stroke-width="0.32">&gt;100mS</text>
<text x="91.9" y="447.18" font-size="6" text-anchor="middle" stroke="#1c1c1c" stroke-width="0.32">6</text>
<text x="105.7" y="447.18" font-size="6" text-anchor="middle" stroke="#1c1c1c" stroke-width="0.32">9</text>
<text x="119.2" y="447.18" font-size="6" text-anchor="middle" stroke="#1c1c1c" stroke-width="0.32">7</text>
<text x="132.6" y="447.18" font-size="6" text-anchor="middle" stroke="#1c1c1c" stroke-width="0.32">8</text>
<text x="122.2" y="502.25" font-size="6.5" text-anchor="middle" stroke="#1c1c1c" stroke-width="0.32">SO1</text>
<text x="139" y="502.25" font-size="6.5" text-anchor="middle" stroke="#1c1c1c" stroke-width="0.32">SC1</text>
<text x="96.4" y="515.06" font-size="6" font-weight="600" stroke="#1c1c1c" stroke-width="0.18">脉冲控制</text>
<text x="96.4" y="522.06" font-size="6" font-weight="600" stroke="#1c1c1c" stroke-width="0.18">开关自锁，中途可</text>
<text x="96.4" y="528.86" font-size="6" font-weight="600" stroke="#1c1c1c" stroke-width="0.18">换向脉冲</text>
<text x="120.6" y="529.01" font-size="6.4" textLength="18.6" lengthAdjust="spacingAndGlyphs" stroke="#1c1c1c" stroke-width="0.32">&gt;100mS</text>
<text x="153" y="447.18" font-size="6" text-anchor="middle" stroke="#1c1c1c" stroke-width="0.32">6</text>
<text x="166.6" y="447.18" font-size="6" text-anchor="middle" stroke="#1c1c1c" stroke-width="0.32">9</text>
<text x="180" y="447.18" font-size="6" text-anchor="middle" stroke="#1c1c1c" stroke-width="0.32">7</text>
<text x="193.6" y="447.18" font-size="6" text-anchor="middle" stroke="#1c1c1c" stroke-width="0.32">8</text>
<text x="183" y="502.25" font-size="6.5" text-anchor="middle" stroke="#1c1c1c" stroke-width="0.32">SO1</text>
<text x="200" y="502.25" font-size="6.5" text-anchor="middle" stroke="#1c1c1c" stroke-width="0.32">SC1</text>
<text x="167" y="515.06" font-size="6" font-weight="600" stroke="#1c1c1c" stroke-width="0.18">电平控制</text>
<text x="167" y="522.06" font-size="6" font-weight="600" stroke="#1c1c1c" stroke-width="0.18">无自锁</text>
<text x="213.7" y="447.18" font-size="6" text-anchor="middle" stroke="#1c1c1c" stroke-width="0.32">6</text>
<text x="227" y="447.18" font-size="6" text-anchor="middle" stroke="#1c1c1c" stroke-width="0.32">9</text>
<text x="240.6" y="447.18" font-size="6" text-anchor="middle" stroke="#1c1c1c" stroke-width="0.32">7</text>
<text x="254.2" y="447.18" font-size="6" text-anchor="middle" stroke="#1c1c1c" stroke-width="0.32">8</text>
<text x="260.2" y="502.25" font-size="6.5" text-anchor="middle" stroke="#1c1c1c" stroke-width="0.32">SC1</text>
<text x="237.5" y="515.16" font-size="6" text-anchor="middle" font-weight="600" stroke="#1c1c1c" stroke-width="0.18">关阀优先</text>
<text x="273.7" y="447.18" font-size="6" text-anchor="middle" stroke="#1c1c1c" stroke-width="0.32">6</text>
<text x="287" y="447.18" font-size="6" text-anchor="middle" stroke="#1c1c1c" stroke-width="0.32">9</text>
<text x="300.4" y="447.18" font-size="6" text-anchor="middle" stroke="#1c1c1c" stroke-width="0.32">7</text>
<text x="313.8" y="447.18" font-size="6" text-anchor="middle" stroke="#1c1c1c" stroke-width="0.32">8</text>
<text x="303.8" y="502.25" font-size="6.5" text-anchor="middle" stroke="#1c1c1c" stroke-width="0.32">SO1</text>
<text x="298.3" y="515.16" font-size="6" text-anchor="middle" font-weight="600" stroke="#1c1c1c" stroke-width="0.18">开阀优先</text>
<text x="344.5" y="468.21" font-size="5.5" text-anchor="middle" fill="#666" stroke="#666" stroke-width="0.32">+</text>
<text x="344.5" y="475.42" font-size="5.5" text-anchor="middle" fill="#666" stroke="#666" stroke-width="0.32">-</text>
<text x="340.7" y="447.18" font-size="6" text-anchor="middle" stroke="#1c1c1c" stroke-width="0.32">6</text>
<text x="354.2" y="447.18" font-size="6" text-anchor="middle" stroke="#1c1c1c" stroke-width="0.32">9</text>
<text x="367.9" y="447.18" font-size="6" text-anchor="middle" stroke="#1c1c1c" stroke-width="0.32">7</text>
<text x="381.3" y="447.18" font-size="6" text-anchor="middle" stroke="#1c1c1c" stroke-width="0.32">8</text>
<text x="332.6" y="471.21" font-size="7.3" text-anchor="middle" stroke="#1c1c1c" stroke-width="0.32" transform="rotate(-90 332.6 468.8)">DC 24V</text>
<text x="345" y="515.14" font-size="6.5" text-anchor="middle" stroke="#1c1c1c" stroke-width="0.32">SS1</text>
<text x="372" y="515.14" font-size="6.5" text-anchor="middle" stroke="#1c1c1c" stroke-width="0.32">SO1</text>
<text x="388.2" y="515.14" font-size="6.5" text-anchor="middle" stroke="#1c1c1c" stroke-width="0.32">SC1</text>
<text x="365" y="525.89" font-size="5.8" text-anchor="middle" font-weight="600" stroke="#1c1c1c" stroke-width="0.18">外供DC24V</text>
<text x="428.3" y="446.78" font-size="6" text-anchor="middle" stroke="#1c1c1c" stroke-width="0.32">6</text>
<text x="441.8" y="446.78" font-size="6" text-anchor="middle" stroke="#1c1c1c" stroke-width="0.32">9</text>
<text x="455.1" y="446.78" font-size="6" text-anchor="middle" stroke="#1c1c1c" stroke-width="0.32">7</text>
<text x="468.7" y="446.78" font-size="6" text-anchor="middle" stroke="#1c1c1c" stroke-width="0.32">8</text>
<text x="437.4" y="482.64" font-size="6.5" text-anchor="middle" stroke="#1c1c1c" stroke-width="0.32">SS1</text>
<text x="461.7" y="501.64" font-size="6.5" text-anchor="middle" stroke="#1c1c1c" stroke-width="0.32">SO1</text>
<text x="478.5" y="501.64" font-size="6.5" text-anchor="middle" stroke="#1c1c1c" stroke-width="0.32">SC1</text>
<text x="411.3" y="499.69" font-size="5.8" text-anchor="middle" font-weight="600" stroke="#1c1c1c" stroke-width="0.18">选择</text>
<text x="436" y="518.44" font-size="5.4" text-anchor="middle" font-weight="600" stroke="#1c1c1c" stroke-width="0.18">PLC开阀</text>
<text x="477" y="518.44" font-size="5.4" text-anchor="middle" font-weight="600" stroke="#1c1c1c" stroke-width="0.18">PLC关阀</text>
<text x="450" y="534.96" font-size="6" text-anchor="middle" font-weight="600" textLength="73.5" lengthAdjust="spacingAndGlyphs" stroke="#1c1c1c" stroke-width="0.18">手动脉冲控制/自动电平控制</text>
</g>
</g>
</svg>
</body>
</html>
